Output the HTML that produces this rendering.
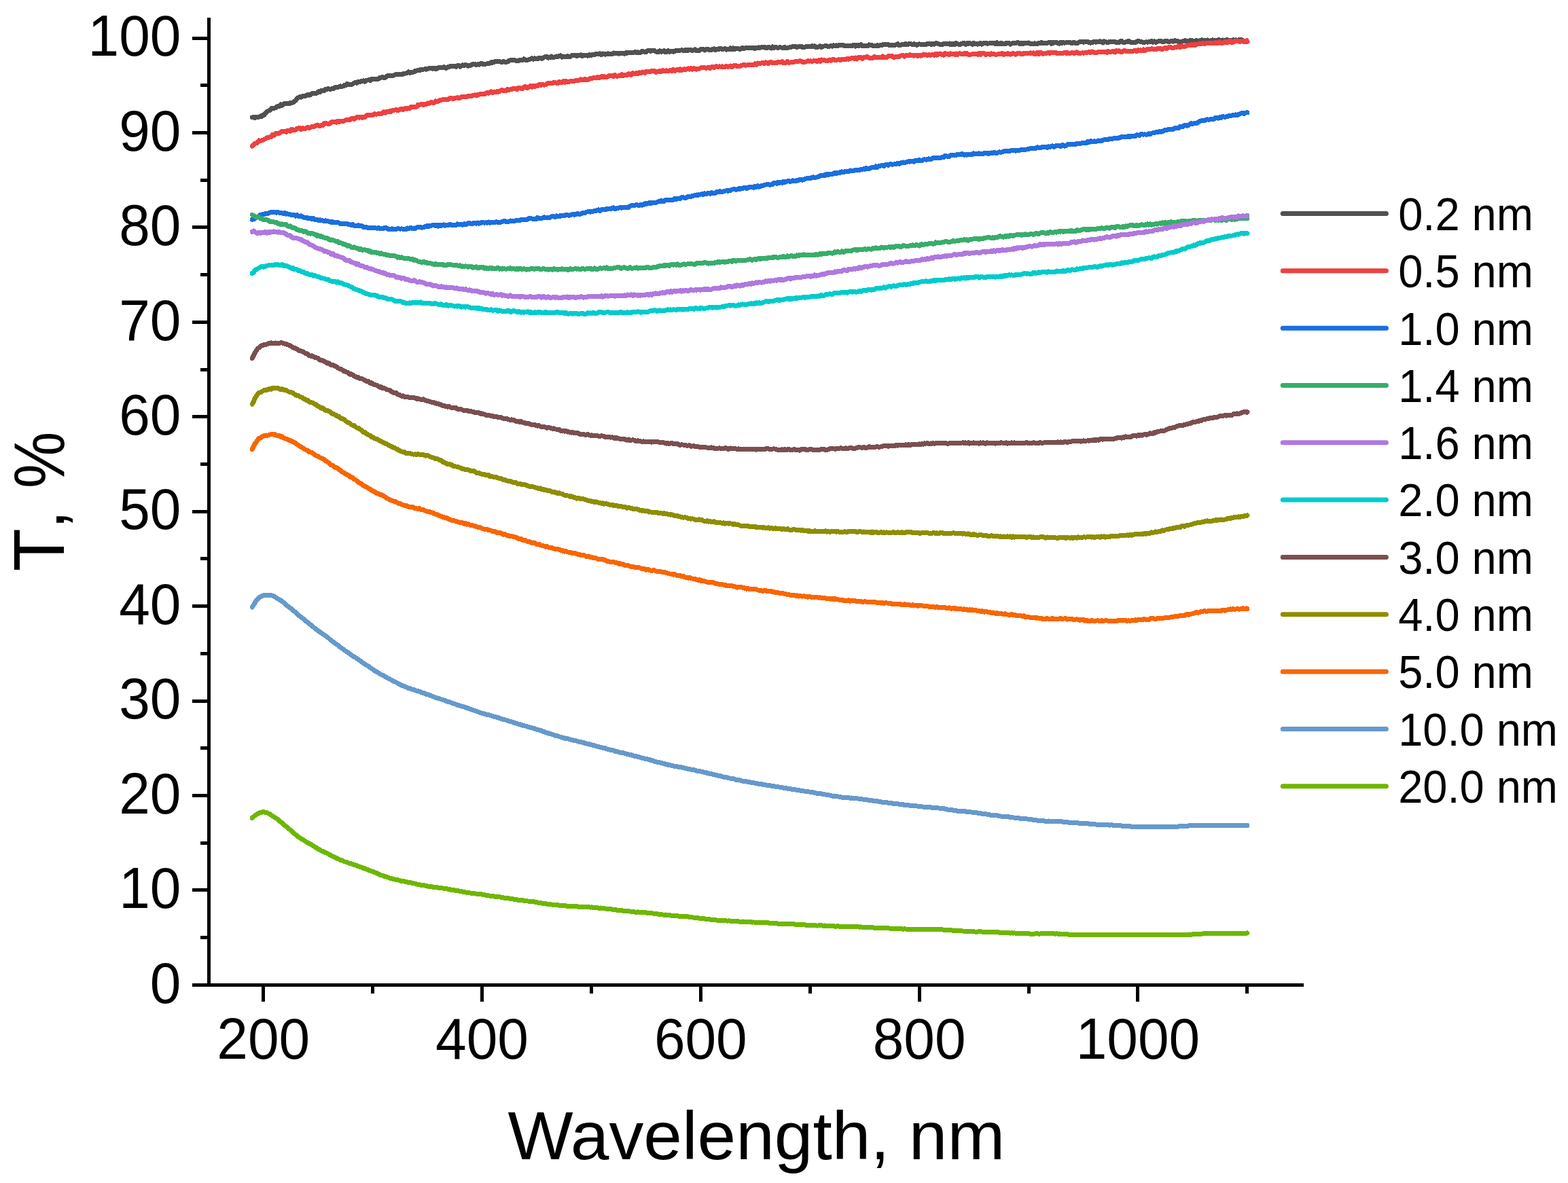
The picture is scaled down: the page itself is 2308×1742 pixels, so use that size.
<!DOCTYPE html>
<html><head><meta charset="utf-8"><title>Transmittance spectra</title>
<style>
html,body{margin:0;padding:0;background:#fff;}
svg{display:block;}
text{font-family:"Liberation Sans",sans-serif;fill:#000;}
</style></head>
<body>
<svg width="2308" height="1742" viewBox="0 0 2308 1742">
<rect width="2308" height="1742" fill="#fff"/>
<g fill="none" stroke-width="7.0" stroke-linejoin="round" stroke-linecap="round" shape-rendering="crispEdges">
<path d="M371.2 173.0 L373.2 172.6 L375.2 173.8 L377.2 172.2 L379.2 173.0 L381.2 172.2 L383.2 171.0 L385.2 171.4 L387.2 169.5 L389.2 169.1 L391.2 166.4 L393.2 164.3 L395.2 163.2 L397.2 162.6 L399.2 159.7 L401.2 159.0 L403.2 159.1 L405.2 159.0 L407.2 157.3 L409.2 156.1 L411.2 156.8 L413.2 153.9 L415.2 155.2 L417.2 153.3 L419.2 152.5 L421.2 152.0 L423.2 152.1 L425.2 152.9 L427.2 151.0 L429.2 151.4 L431.2 150.9 L433.2 149.2 L435.2 148.1 L437.2 145.1 L439.2 143.6 L441.2 142.8 L443.2 143.2 L445.2 141.9 L447.2 141.1 L449.2 141.3 L451.2 140.4 L453.2 139.5 L455.2 140.1 L457.2 139.3 L459.2 137.6 L461.2 137.8 L463.2 137.1 L465.2 137.3 L467.2 136.4 L469.2 134.7 L471.2 135.7 L473.2 133.1 L475.2 133.2 L477.2 133.5 L479.2 131.5 L481.2 131.8 L483.2 130.3 L485.2 131.3 L487.2 131.1 L489.2 130.2 L491.2 130.5 L493.2 128.6 L495.2 129.0 L497.2 128.3 L499.2 127.7 L501.2 126.9 L503.2 127.3 L505.2 127.0 L507.2 125.4 L509.2 125.4 L511.2 123.5 L513.2 124.6 L515.2 124.1 L517.2 124.5 L519.2 123.7 L521.2 122.0 L523.2 121.9 L525.2 122.2 L527.2 120.3 L529.2 121.0 L531.2 119.9 L533.2 119.4 L535.2 118.8 L537.2 120.1 L539.2 118.2 L541.2 118.0 L543.2 117.9 L545.2 118.7 L547.2 116.3 L549.2 116.8 L551.2 116.6 L553.2 116.9 L555.2 116.4 L557.2 116.1 L559.2 114.2 L561.2 114.2 L563.2 113.6 L565.2 114.5 L567.2 114.3 L569.2 112.0 L571.2 111.7 L573.2 111.4 L575.2 111.1 L577.2 111.3 L579.2 111.2 L581.2 110.1 L583.2 109.1 L585.2 109.8 L587.2 109.3 L589.2 109.4 L591.2 110.0 L593.2 109.0 L595.2 108.1 L597.2 108.0 L599.2 107.7 L601.2 105.8 L603.2 107.4 L605.2 106.7 L607.2 106.5 L609.2 105.9 L611.2 104.5 L613.2 104.2 L615.2 103.1 L617.2 104.0 L619.2 102.4 L621.2 102.1 L623.2 102.2 L625.2 101.8 L627.2 102.1 L629.2 101.2 L631.2 100.9 L633.2 101.0 L635.2 100.7 L637.2 101.2 L639.2 100.1 L641.2 102.0 L643.2 101.1 L645.2 99.8 L647.2 99.7 L649.2 99.7 L651.2 99.5 L653.2 98.6 L655.2 100.1 L657.2 100.2 L659.2 98.7 L661.2 98.5 L663.2 97.3 L665.2 97.1 L667.2 97.5 L669.2 97.2 L671.2 98.4 L673.2 96.6 L675.2 96.1 L677.2 98.2 L679.2 97.0 L681.2 95.9 L683.2 96.7 L685.2 95.3 L687.2 96.3 L689.2 97.2 L691.2 96.8 L693.2 96.2 L695.2 94.9 L697.2 95.0 L699.2 94.3 L701.2 95.6 L703.2 94.8 L705.2 95.1 L707.2 93.8 L709.2 93.3 L711.2 94.5 L713.2 94.7 L715.2 94.1 L717.2 93.8 L719.2 93.6 L721.2 93.1 L723.2 91.7 L725.2 92.1 L727.2 91.5 L729.2 90.5 L731.2 90.2 L733.2 90.6 L735.2 90.4 L737.2 91.2 L739.2 91.7 L741.2 90.3 L743.2 91.3 L745.2 91.2 L747.2 91.0 L749.2 89.4 L751.2 88.9 L753.2 88.8 L755.2 88.5 L757.2 88.4 L759.2 89.2 L761.2 89.7 L763.2 89.4 L765.2 88.4 L767.2 88.6 L769.2 88.8 L771.2 86.9 L773.2 88.1 L775.2 88.5 L777.2 88.0 L779.2 87.7 L781.2 86.8 L783.2 85.9 L785.2 87.2 L787.2 85.9 L789.2 86.8 L791.2 87.0 L793.2 85.4 L795.2 85.2 L797.2 86.3 L799.2 85.5 L801.2 84.0 L803.2 83.7 L805.2 83.6 L807.2 85.2 L809.2 84.8 L811.2 83.0 L813.2 84.5 L815.2 84.7 L817.2 83.8 L819.2 83.0 L821.2 83.4 L823.2 82.3 L825.2 81.9 L827.2 84.2 L829.2 83.3 L831.2 83.0 L833.2 83.9 L835.2 82.6 L837.2 83.6 L839.2 83.4 L841.2 81.9 L843.2 81.9 L845.2 81.9 L847.2 81.7 L849.2 82.4 L851.2 81.5 L853.2 81.7 L855.2 80.9 L857.2 82.6 L859.2 81.2 L861.2 81.3 L863.2 81.4 L865.2 82.1 L867.2 80.7 L869.2 81.8 L871.2 80.7 L873.2 80.6 L875.2 80.5 L877.2 79.1 L879.2 80.0 L881.2 79.3 L883.2 78.8 L885.2 80.6 L887.2 79.0 L889.2 79.6 L891.2 80.1 L893.2 79.6 L895.2 78.9 L897.2 79.3 L899.2 79.3 L901.2 79.7 L903.2 78.0 L905.2 79.0 L907.2 78.2 L909.2 78.1 L911.2 79.2 L913.2 78.5 L915.2 78.5 L917.2 78.9 L919.2 79.1 L921.2 77.8 L923.2 78.1 L925.2 77.7 L927.2 77.5 L929.2 77.8 L931.2 77.0 L933.2 77.1 L935.2 76.7 L937.2 77.7 L939.2 76.9 L941.2 77.1 L943.2 77.1 L945.2 75.3 L947.2 75.9 L949.2 76.7 L951.2 76.4 L953.2 74.7 L955.2 74.6 L957.2 75.4 L959.2 74.5 L961.2 74.9 L963.2 74.5 L965.2 76.0 L967.2 76.3 L969.2 76.6 L971.2 74.8 L973.2 76.2 L975.2 76.0 L977.2 74.7 L979.2 76.5 L981.2 76.6 L983.2 74.7 L985.2 76.4 L987.2 75.0 L989.2 75.1 L991.2 76.2 L993.2 75.8 L995.2 74.1 L997.2 74.6 L999.2 74.7 L1001.2 74.2 L1003.2 73.8 L1005.2 74.0 L1007.2 74.9 L1009.2 73.2 L1011.2 74.4 L1013.2 74.1 L1015.2 73.0 L1017.2 73.7 L1019.2 74.4 L1021.2 74.0 L1023.2 72.9 L1025.2 75.0 L1027.2 74.5 L1029.2 74.8 L1031.2 72.7 L1033.2 73.0 L1035.2 72.3 L1037.2 74.0 L1039.2 72.7 L1041.2 72.3 L1043.2 72.9 L1045.2 74.0 L1047.2 73.7 L1049.2 72.2 L1051.2 71.9 L1053.2 73.6 L1055.2 72.7 L1057.2 73.0 L1059.2 71.4 L1061.2 71.3 L1063.2 72.8 L1065.2 72.1 L1067.2 71.2 L1069.2 73.2 L1071.2 72.4 L1073.2 72.8 L1075.2 71.0 L1077.2 72.8 L1079.2 70.9 L1081.2 72.7 L1083.2 71.7 L1085.2 71.4 L1087.2 71.8 L1089.2 72.7 L1091.2 71.1 L1093.2 70.7 L1095.2 71.6 L1097.2 70.8 L1099.2 70.5 L1101.2 70.5 L1103.2 70.2 L1105.2 70.5 L1107.2 70.7 L1109.2 70.6 L1111.2 71.6 L1113.2 70.3 L1115.2 70.8 L1117.2 69.9 L1119.2 70.2 L1121.2 69.3 L1123.2 69.8 L1125.2 69.1 L1127.2 70.8 L1129.2 70.3 L1131.2 69.3 L1133.2 70.0 L1135.2 71.0 L1137.2 69.0 L1139.2 70.7 L1141.2 69.7 L1143.2 69.9 L1145.2 70.7 L1147.2 69.6 L1149.2 69.8 L1151.2 70.3 L1153.2 71.0 L1155.2 69.4 L1157.2 70.6 L1159.2 70.2 L1161.2 70.0 L1163.2 69.4 L1165.2 69.2 L1167.2 68.4 L1169.2 68.6 L1171.2 68.3 L1173.2 69.8 L1175.2 68.6 L1177.2 68.3 L1179.2 68.0 L1181.2 69.7 L1183.2 69.7 L1185.2 69.2 L1187.2 68.2 L1189.2 68.0 L1191.2 68.1 L1193.2 68.5 L1195.2 67.7 L1197.2 68.4 L1199.2 67.9 L1201.2 69.6 L1203.2 69.6 L1205.2 68.6 L1207.2 67.8 L1209.2 69.6 L1211.2 68.0 L1213.2 68.0 L1215.2 67.2 L1217.2 68.0 L1219.2 68.2 L1221.2 68.2 L1223.2 67.4 L1225.2 68.1 L1227.2 66.8 L1229.2 67.3 L1231.2 66.8 L1233.2 67.4 L1235.2 66.5 L1237.2 66.4 L1239.2 66.9 L1241.2 66.7 L1243.2 67.5 L1245.2 67.3 L1247.2 67.8 L1249.2 67.5 L1251.2 67.6 L1253.2 67.9 L1255.2 66.7 L1257.2 66.5 L1259.2 68.1 L1261.2 66.1 L1263.2 67.4 L1265.2 67.2 L1267.2 65.8 L1269.2 67.6 L1271.2 67.7 L1273.2 67.1 L1275.2 67.3 L1277.2 67.5 L1279.2 65.9 L1281.2 66.8 L1283.2 66.7 L1285.2 67.4 L1287.2 67.3 L1289.2 67.4 L1291.2 66.7 L1293.2 67.5 L1295.2 66.9 L1297.2 66.9 L1299.2 65.7 L1301.2 65.2 L1303.2 65.4 L1305.2 65.9 L1307.2 65.2 L1309.2 66.9 L1311.2 66.2 L1313.2 66.3 L1315.2 66.3 L1317.2 66.4 L1319.2 65.8 L1321.2 64.6 L1323.2 66.5 L1325.2 66.3 L1327.2 65.7 L1329.2 65.7 L1331.2 65.9 L1333.2 64.5 L1335.2 66.0 L1337.2 64.8 L1339.2 64.4 L1341.2 64.8 L1343.2 65.9 L1345.2 64.6 L1347.2 65.8 L1349.2 66.3 L1351.2 65.2 L1353.2 64.9 L1355.2 65.1 L1357.2 65.5 L1359.2 65.7 L1361.2 65.3 L1363.2 65.4 L1365.2 64.0 L1367.2 64.2 L1369.2 64.4 L1371.2 65.6 L1373.2 64.5 L1375.2 65.2 L1377.2 63.8 L1379.2 63.9 L1381.2 64.4 L1383.2 65.4 L1385.2 65.4 L1387.2 65.4 L1389.2 64.5 L1391.2 65.0 L1393.2 64.9 L1395.2 64.8 L1397.2 64.0 L1399.2 65.8 L1401.2 64.1 L1403.2 65.9 L1405.2 65.8 L1407.2 63.5 L1409.2 64.5 L1411.2 65.4 L1413.2 65.7 L1415.2 64.4 L1417.2 63.9 L1419.2 63.7 L1421.2 65.4 L1423.2 63.6 L1425.2 64.5 L1427.2 63.4 L1429.2 64.3 L1431.2 65.3 L1433.2 63.3 L1435.2 65.0 L1437.2 64.2 L1439.2 65.1 L1441.2 64.7 L1443.2 63.5 L1445.2 65.1 L1447.2 64.1 L1449.2 63.0 L1451.2 63.0 L1453.2 64.1 L1455.2 64.0 L1457.2 63.6 L1459.2 63.2 L1461.2 63.7 L1463.2 63.6 L1465.2 64.9 L1467.2 62.8 L1469.2 64.6 L1471.2 64.8 L1473.2 63.1 L1475.2 65.0 L1477.2 64.5 L1479.2 64.9 L1481.2 63.4 L1483.2 63.6 L1485.2 63.7 L1487.2 65.1 L1489.2 64.1 L1491.2 63.6 L1493.2 63.7 L1495.2 63.4 L1497.2 62.8 L1499.2 62.9 L1501.2 64.7 L1503.2 63.3 L1505.2 64.9 L1507.2 63.2 L1509.2 63.2 L1511.2 63.8 L1513.2 63.0 L1515.2 63.4 L1517.2 64.7 L1519.2 64.5 L1521.2 64.3 L1523.2 63.8 L1525.2 64.5 L1527.2 64.5 L1529.2 63.5 L1531.2 63.9 L1533.2 62.2 L1535.2 63.8 L1537.2 63.1 L1539.2 63.8 L1541.2 63.6 L1543.2 62.7 L1545.2 62.1 L1547.2 64.2 L1549.2 62.3 L1551.2 63.1 L1553.2 62.8 L1555.2 62.6 L1557.2 63.7 L1559.2 64.2 L1561.2 62.5 L1563.2 63.4 L1565.2 62.6 L1567.2 63.2 L1569.2 62.8 L1571.2 62.2 L1573.2 62.1 L1575.2 62.2 L1577.2 63.9 L1579.2 62.9 L1581.2 62.2 L1583.2 63.8 L1585.2 63.9 L1587.2 62.6 L1589.2 61.8 L1591.2 61.9 L1593.2 61.6 L1595.2 62.1 L1597.2 61.4 L1599.2 61.7 L1601.2 61.7 L1603.2 62.4 L1605.2 63.1 L1607.2 62.7 L1609.2 61.9 L1611.2 61.8 L1613.2 62.1 L1615.2 61.7 L1617.2 61.6 L1619.2 60.9 L1621.2 61.3 L1623.2 63.0 L1625.2 60.9 L1627.2 61.8 L1629.2 62.1 L1631.2 62.6 L1633.2 61.1 L1635.2 61.2 L1637.2 61.1 L1639.2 61.5 L1641.2 61.6 L1643.2 62.8 L1645.2 62.5 L1647.2 62.6 L1649.2 60.6 L1651.2 60.6 L1653.2 62.2 L1655.2 62.6 L1657.2 61.6 L1659.2 61.9 L1661.2 60.5 L1663.2 61.4 L1665.2 62.7 L1667.2 62.5 L1669.2 62.5 L1671.2 62.8 L1673.2 61.1 L1675.2 60.7 L1677.2 60.8 L1679.2 61.7 L1681.2 62.0 L1683.2 62.6 L1685.2 62.1 L1687.2 61.9 L1689.2 62.2 L1691.2 61.4 L1693.2 61.6 L1695.2 60.3 L1697.2 62.1 L1699.2 60.8 L1701.2 62.4 L1703.2 61.7 L1705.2 60.8 L1707.2 60.4 L1709.2 60.7 L1711.2 61.6 L1713.2 61.7 L1715.2 60.2 L1717.2 60.1 L1719.2 61.2 L1721.2 61.3 L1723.2 60.8 L1725.2 60.3 L1727.2 61.2 L1729.2 59.7 L1731.2 60.4 L1733.2 60.7 L1735.2 61.9 L1737.2 61.1 L1739.2 61.6 L1741.2 60.6 L1743.2 60.0 L1745.2 59.9 L1747.2 61.6 L1749.2 60.9 L1751.2 59.9 L1753.2 59.2 L1755.2 60.3 L1757.2 60.6 L1759.2 60.0 L1761.2 59.5 L1763.2 60.5 L1765.2 61.0 L1767.2 59.3 L1769.2 58.8 L1771.2 59.4 L1773.2 59.6 L1775.2 60.2 L1777.2 59.0 L1779.2 60.4 L1781.2 60.2 L1783.2 59.6 L1785.2 58.9 L1787.2 60.7 L1789.2 59.1 L1791.2 60.3 L1793.2 58.9 L1795.2 58.9 L1797.2 60.2 L1799.2 59.0 L1801.2 60.6 L1803.2 59.5 L1805.2 58.8 L1807.2 58.9 L1809.2 59.4 L1811.2 60.0 L1813.2 60.7 L1815.2 58.7 L1817.2 59.4 L1819.2 58.9 L1821.2 60.8 L1823.2 58.8 L1825.2 58.6 L1827.2 58.7 L1829.2 59.5 L1831.2 60.8 L1833.2 60.7 L1835.2 60.4 L1835.9 61.1" stroke="#515151"/>
<path d="M371.2 215.1 L373.2 212.9 L375.2 211.0 L377.2 211.0 L379.2 209.2 L381.2 206.8 L383.2 207.8 L385.2 206.6 L387.2 206.0 L389.2 205.2 L391.2 204.1 L393.2 202.9 L395.2 202.6 L397.2 201.7 L399.2 201.9 L401.2 198.6 L403.2 199.5 L405.2 196.7 L407.2 196.3 L409.2 196.8 L411.2 196.2 L413.2 194.7 L415.2 193.3 L417.2 193.9 L419.2 193.3 L421.2 194.3 L423.2 192.2 L425.2 192.3 L427.2 193.1 L429.2 190.5 L431.2 190.9 L433.2 191.5 L435.2 191.1 L437.2 189.1 L439.2 188.8 L441.2 188.7 L443.2 190.5 L445.2 188.7 L447.2 189.6 L449.2 189.6 L451.2 188.0 L453.2 187.5 L455.2 188.8 L457.2 187.6 L459.2 186.3 L461.2 187.0 L463.2 185.6 L465.2 185.1 L467.2 184.0 L469.2 185.4 L471.2 185.3 L473.2 184.2 L475.2 184.4 L477.2 181.7 L479.2 181.7 L481.2 181.8 L483.2 182.5 L485.2 182.0 L487.2 180.2 L489.2 179.5 L491.2 179.6 L493.2 179.4 L495.2 180.2 L497.2 178.1 L499.2 179.3 L501.2 178.9 L503.2 178.8 L505.2 178.4 L507.2 177.7 L509.2 176.7 L511.2 176.4 L513.2 176.1 L515.2 176.7 L517.2 174.6 L519.2 174.5 L521.2 175.4 L523.2 173.8 L525.2 172.9 L527.2 172.3 L529.2 173.2 L531.2 172.2 L533.2 173.3 L535.2 172.7 L537.2 172.5 L539.2 170.4 L541.2 169.5 L543.2 169.2 L545.2 169.7 L547.2 169.9 L549.2 168.8 L551.2 167.9 L553.2 168.0 L555.2 168.0 L557.2 167.8 L559.2 167.6 L561.2 167.4 L563.2 166.6 L565.2 164.8 L567.2 166.2 L569.2 164.5 L571.2 164.7 L573.2 163.9 L575.2 164.3 L577.2 162.7 L579.2 162.4 L581.2 162.0 L583.2 161.5 L585.2 162.9 L587.2 161.8 L589.2 160.8 L591.2 160.7 L593.2 161.8 L595.2 160.3 L597.2 159.2 L599.2 160.2 L601.2 159.5 L603.2 159.8 L605.2 157.2 L607.2 157.7 L609.2 158.0 L611.2 157.5 L613.2 157.2 L615.2 154.5 L617.2 154.6 L619.2 153.7 L621.2 153.4 L623.2 154.8 L625.2 153.4 L627.2 153.8 L629.2 152.0 L631.2 152.8 L633.2 151.3 L635.2 150.5 L637.2 151.3 L639.2 151.2 L641.2 148.8 L643.2 149.5 L645.2 149.2 L647.2 147.8 L649.2 147.7 L651.2 146.8 L653.2 146.5 L655.2 146.3 L657.2 146.8 L659.2 146.6 L661.2 145.2 L663.2 144.4 L665.2 144.9 L667.2 145.5 L669.2 144.1 L671.2 144.2 L673.2 143.7 L675.2 144.9 L677.2 144.0 L679.2 142.6 L681.2 142.4 L683.2 142.9 L685.2 142.9 L687.2 142.8 L689.2 141.2 L691.2 141.0 L693.2 141.9 L695.2 140.8 L697.2 140.1 L699.2 139.8 L701.2 140.9 L703.2 139.0 L705.2 139.2 L707.2 138.4 L709.2 138.1 L711.2 138.9 L713.2 138.8 L715.2 137.0 L717.2 136.3 L719.2 137.2 L721.2 135.6 L723.2 134.9 L725.2 136.7 L727.2 135.3 L729.2 135.9 L731.2 134.6 L733.2 135.5 L735.2 134.2 L737.2 133.1 L739.2 132.5 L741.2 133.5 L743.2 133.4 L745.2 133.7 L747.2 131.5 L749.2 132.5 L751.2 131.6 L753.2 131.6 L755.2 130.4 L757.2 130.4 L759.2 130.7 L761.2 131.4 L763.2 129.1 L765.2 129.7 L767.2 130.2 L769.2 130.3 L771.2 128.1 L773.2 127.7 L775.2 129.3 L777.2 129.1 L779.2 127.6 L781.2 126.3 L783.2 128.1 L785.2 126.5 L787.2 127.4 L789.2 126.4 L791.2 126.6 L793.2 124.7 L795.2 125.9 L797.2 124.3 L799.2 124.4 L801.2 125.2 L803.2 124.8 L805.2 123.0 L807.2 122.8 L809.2 122.9 L811.2 122.9 L813.2 122.3 L815.2 121.4 L817.2 121.5 L819.2 122.4 L821.2 122.6 L823.2 120.3 L825.2 121.3 L827.2 121.6 L829.2 119.6 L831.2 121.3 L833.2 119.4 L835.2 120.4 L837.2 120.0 L839.2 120.0 L841.2 119.0 L843.2 119.1 L845.2 119.3 L847.2 118.7 L849.2 119.0 L851.2 118.3 L853.2 118.0 L855.2 116.8 L857.2 117.9 L859.2 117.4 L861.2 116.5 L863.2 117.5 L865.2 117.3 L867.2 116.3 L869.2 115.3 L871.2 115.7 L873.2 114.6 L875.2 114.3 L877.2 114.8 L879.2 113.7 L881.2 114.2 L883.2 114.1 L885.2 112.6 L887.2 113.8 L889.2 112.2 L891.2 113.5 L893.2 113.3 L895.2 112.4 L897.2 111.1 L899.2 111.9 L901.2 111.4 L903.2 112.6 L905.2 110.5 L907.2 112.0 L909.2 112.2 L911.2 111.4 L913.2 111.4 L915.2 109.7 L917.2 111.5 L919.2 110.1 L921.2 111.0 L923.2 110.7 L925.2 108.7 L927.2 110.0 L929.2 110.1 L931.2 107.7 L933.2 108.1 L935.2 108.8 L937.2 107.1 L939.2 108.6 L941.2 106.8 L943.2 107.8 L945.2 106.0 L947.2 106.6 L949.2 107.4 L951.2 105.5 L953.2 105.4 L955.2 105.9 L957.2 105.3 L959.2 104.5 L961.2 104.7 L963.2 104.5 L965.2 106.3 L967.2 105.6 L969.2 106.0 L971.2 104.1 L973.2 105.5 L975.2 103.7 L977.2 104.6 L979.2 104.7 L981.2 103.9 L983.2 104.9 L985.2 104.0 L987.2 103.8 L989.2 104.4 L991.2 102.3 L993.2 104.3 L995.2 103.2 L997.2 102.5 L999.2 103.3 L1001.2 101.9 L1003.2 103.5 L1005.2 102.3 L1007.2 101.7 L1009.2 102.5 L1011.2 101.7 L1013.2 100.9 L1015.2 102.2 L1017.2 100.4 L1019.2 102.1 L1021.2 100.7 L1023.2 101.5 L1025.2 102.2 L1027.2 101.1 L1029.2 101.2 L1031.2 100.2 L1033.2 99.3 L1035.2 99.2 L1037.2 99.4 L1039.2 100.3 L1041.2 99.8 L1043.2 99.8 L1045.2 100.6 L1047.2 98.6 L1049.2 98.7 L1051.2 99.6 L1053.2 98.0 L1055.2 97.8 L1057.2 98.5 L1059.2 97.8 L1061.2 98.3 L1063.2 97.9 L1065.2 98.6 L1067.2 98.5 L1069.2 97.5 L1071.2 98.4 L1073.2 97.9 L1075.2 97.0 L1077.2 98.8 L1079.2 97.0 L1081.2 96.6 L1083.2 96.3 L1085.2 97.5 L1087.2 97.9 L1089.2 97.5 L1091.2 96.4 L1093.2 95.9 L1095.2 95.1 L1097.2 96.4 L1099.2 96.0 L1101.2 95.3 L1103.2 95.8 L1105.2 95.1 L1107.2 96.0 L1109.2 95.3 L1111.2 93.9 L1113.2 95.3 L1115.2 93.0 L1117.2 94.0 L1119.2 93.5 L1121.2 92.9 L1123.2 92.2 L1125.2 93.8 L1127.2 91.8 L1129.2 92.9 L1131.2 93.7 L1133.2 91.7 L1135.2 91.7 L1137.2 92.6 L1139.2 92.2 L1141.2 92.5 L1143.2 92.8 L1145.2 91.2 L1147.2 91.5 L1149.2 91.4 L1151.2 90.7 L1153.2 92.7 L1155.2 92.4 L1157.2 92.1 L1159.2 90.4 L1161.2 92.3 L1163.2 92.0 L1165.2 91.3 L1167.2 91.8 L1169.2 91.1 L1171.2 90.4 L1173.2 90.1 L1175.2 90.3 L1177.2 89.7 L1179.2 90.3 L1181.2 91.2 L1183.2 91.0 L1185.2 91.2 L1187.2 90.8 L1189.2 89.6 L1191.2 90.2 L1193.2 89.8 L1195.2 90.6 L1197.2 89.9 L1199.2 89.1 L1201.2 89.9 L1203.2 90.6 L1205.2 88.7 L1207.2 90.2 L1209.2 88.0 L1211.2 88.5 L1213.2 88.3 L1215.2 89.4 L1217.2 89.8 L1219.2 89.1 L1221.2 88.0 L1223.2 89.2 L1225.2 87.7 L1227.2 87.4 L1229.2 88.8 L1231.2 88.0 L1233.2 88.0 L1235.2 87.8 L1237.2 88.4 L1239.2 87.1 L1241.2 87.8 L1243.2 87.4 L1245.2 87.6 L1247.2 86.5 L1249.2 87.1 L1251.2 86.6 L1253.2 85.9 L1255.2 85.5 L1257.2 86.4 L1259.2 85.0 L1261.2 86.9 L1263.2 84.9 L1265.2 84.5 L1267.2 84.6 L1269.2 86.4 L1271.2 84.9 L1273.2 84.3 L1275.2 83.9 L1277.2 83.9 L1279.2 85.3 L1281.2 85.1 L1283.2 85.1 L1285.2 85.1 L1287.2 83.4 L1289.2 84.6 L1291.2 84.0 L1293.2 85.0 L1295.2 84.9 L1297.2 85.0 L1299.2 83.0 L1301.2 84.8 L1303.2 84.9 L1305.2 84.9 L1307.2 82.8 L1309.2 83.0 L1311.2 82.7 L1313.2 82.4 L1315.2 84.3 L1317.2 84.1 L1319.2 83.6 L1321.2 83.9 L1323.2 83.3 L1325.2 82.4 L1327.2 81.8 L1329.2 81.6 L1331.2 83.1 L1333.2 81.6 L1335.2 81.8 L1337.2 81.9 L1339.2 80.8 L1341.2 81.2 L1343.2 81.2 L1345.2 82.1 L1347.2 81.2 L1349.2 81.0 L1351.2 82.5 L1353.2 81.3 L1355.2 82.1 L1357.2 81.5 L1359.2 80.0 L1361.2 80.9 L1363.2 80.9 L1365.2 81.6 L1367.2 80.5 L1369.2 81.3 L1371.2 80.8 L1373.2 80.0 L1375.2 81.4 L1377.2 79.5 L1379.2 81.1 L1381.2 79.5 L1383.2 79.0 L1385.2 79.4 L1387.2 80.6 L1389.2 81.1 L1391.2 78.6 L1393.2 79.7 L1395.2 79.7 L1397.2 80.4 L1399.2 78.9 L1401.2 79.6 L1403.2 79.2 L1405.2 80.3 L1407.2 79.0 L1409.2 80.6 L1411.2 79.0 L1413.2 78.8 L1415.2 80.0 L1417.2 79.5 L1419.2 78.6 L1421.2 79.8 L1423.2 78.5 L1425.2 80.2 L1427.2 80.0 L1429.2 80.2 L1431.2 79.8 L1433.2 79.2 L1435.2 79.3 L1437.2 79.3 L1439.2 80.4 L1441.2 78.5 L1443.2 80.4 L1445.2 78.4 L1447.2 78.8 L1449.2 78.9 L1451.2 80.5 L1453.2 79.5 L1455.2 79.2 L1457.2 80.4 L1459.2 78.9 L1461.2 79.4 L1463.2 79.6 L1465.2 80.1 L1467.2 80.1 L1469.2 79.9 L1471.2 79.1 L1473.2 79.1 L1475.2 78.7 L1477.2 80.3 L1479.2 79.9 L1481.2 80.0 L1483.2 78.7 L1485.2 79.3 L1487.2 80.1 L1489.2 79.6 L1491.2 78.5 L1493.2 79.2 L1495.2 80.2 L1497.2 78.6 L1499.2 78.5 L1501.2 78.7 L1503.2 79.6 L1505.2 79.9 L1507.2 78.2 L1509.2 78.1 L1511.2 78.3 L1513.2 78.4 L1515.2 78.8 L1517.2 77.9 L1519.2 78.2 L1521.2 77.8 L1523.2 79.6 L1525.2 79.0 L1527.2 77.4 L1529.2 79.5 L1531.2 77.4 L1533.2 78.0 L1535.2 79.4 L1537.2 79.0 L1539.2 78.8 L1541.2 78.1 L1543.2 77.5 L1545.2 78.6 L1547.2 77.3 L1549.2 77.5 L1551.2 78.0 L1553.2 77.1 L1555.2 78.0 L1557.2 78.9 L1559.2 78.7 L1561.2 78.2 L1563.2 78.5 L1565.2 78.0 L1567.2 77.2 L1569.2 78.3 L1571.2 77.7 L1573.2 78.5 L1575.2 78.8 L1577.2 77.6 L1579.2 77.9 L1581.2 78.3 L1583.2 77.4 L1585.2 76.9 L1587.2 78.1 L1589.2 78.4 L1591.2 78.1 L1593.2 77.8 L1595.2 78.2 L1597.2 77.7 L1599.2 77.6 L1601.2 77.0 L1603.2 76.7 L1605.2 77.4 L1607.2 76.0 L1609.2 76.7 L1611.2 77.6 L1613.2 77.3 L1615.2 77.1 L1617.2 76.1 L1619.2 76.5 L1621.2 76.5 L1623.2 76.8 L1625.2 76.2 L1627.2 76.8 L1629.2 77.3 L1631.2 75.5 L1633.2 76.5 L1635.2 76.7 L1637.2 75.7 L1639.2 75.9 L1641.2 77.0 L1643.2 74.7 L1645.2 75.8 L1647.2 74.8 L1649.2 76.2 L1651.2 76.5 L1653.2 75.5 L1655.2 74.4 L1657.2 75.4 L1659.2 75.3 L1661.2 75.6 L1663.2 75.0 L1665.2 75.2 L1667.2 75.6 L1669.2 74.7 L1671.2 74.3 L1673.2 75.5 L1675.2 73.6 L1677.2 74.6 L1679.2 73.8 L1681.2 74.5 L1683.2 72.9 L1685.2 74.8 L1687.2 73.1 L1689.2 72.2 L1691.2 72.6 L1693.2 72.7 L1695.2 71.6 L1697.2 72.4 L1699.2 72.3 L1701.2 72.8 L1703.2 71.7 L1705.2 71.3 L1707.2 71.1 L1709.2 72.1 L1711.2 72.4 L1713.2 71.2 L1715.2 70.3 L1717.2 71.5 L1719.2 70.3 L1721.2 69.6 L1723.2 69.2 L1725.2 70.5 L1727.2 70.4 L1729.2 69.7 L1731.2 69.1 L1733.2 69.1 L1735.2 68.0 L1737.2 69.6 L1739.2 67.8 L1741.2 68.3 L1743.2 68.5 L1745.2 68.2 L1747.2 67.1 L1749.2 66.5 L1751.2 66.8 L1753.2 65.6 L1755.2 67.0 L1757.2 65.7 L1759.2 66.6 L1761.2 65.0 L1763.2 65.0 L1765.2 64.5 L1767.2 64.7 L1769.2 63.9 L1771.2 63.3 L1773.2 64.8 L1775.2 63.6 L1777.2 63.3 L1779.2 63.3 L1781.2 63.5 L1783.2 63.3 L1785.2 63.6 L1787.2 63.5 L1789.2 62.7 L1791.2 63.9 L1793.2 63.6 L1795.2 61.6 L1797.2 63.3 L1799.2 63.4 L1801.2 63.0 L1803.2 61.4 L1805.2 62.9 L1807.2 62.4 L1809.2 60.8 L1811.2 60.6 L1813.2 62.8 L1815.2 62.0 L1817.2 60.9 L1819.2 60.4 L1821.2 60.4 L1823.2 60.5 L1825.2 61.7 L1827.2 60.6 L1829.2 60.0 L1831.2 61.7 L1833.2 61.3 L1835.2 59.8 L1835.9 61.4" stroke="#EF4040"/>
<path d="M371.2 323.4 L373.2 322.9 L375.2 321.5 L377.2 320.8 L379.2 319.5 L381.2 318.6 L383.2 316.4 L385.2 316.5 L387.2 315.4 L389.2 315.3 L391.2 314.3 L393.2 314.8 L395.2 313.8 L397.2 313.0 L399.2 312.7 L401.2 312.4 L403.2 313.0 L405.2 312.2 L407.2 313.1 L409.2 312.6 L411.2 313.4 L413.2 313.6 L415.2 313.9 L417.2 314.8 L419.2 313.3 L421.2 315.2 L423.2 314.8 L425.2 315.4 L427.2 316.0 L429.2 316.7 L431.2 316.2 L433.2 316.6 L435.2 318.1 L437.2 316.7 L439.2 318.3 L441.2 318.7 L443.2 317.9 L445.2 319.4 L447.2 320.0 L449.2 320.9 L451.2 320.1 L453.2 321.8 L455.2 321.3 L457.2 321.6 L459.2 322.8 L461.2 321.5 L463.2 323.2 L465.2 323.4 L467.2 323.2 L469.2 324.5 L471.2 323.9 L473.2 324.5 L475.2 324.9 L477.2 325.7 L479.2 324.9 L481.2 325.6 L483.2 325.9 L485.2 326.5 L487.2 327.3 L489.2 326.5 L491.2 327.9 L493.2 327.3 L495.2 327.8 L497.2 327.6 L499.2 328.3 L501.2 329.5 L503.2 329.2 L505.2 329.8 L507.2 329.1 L509.2 329.4 L511.2 329.7 L513.2 330.6 L515.2 331.0 L517.2 331.6 L519.2 330.5 L521.2 332.1 L523.2 332.8 L525.2 332.4 L527.2 331.7 L529.2 332.5 L531.2 332.2 L533.2 332.8 L535.2 334.6 L537.2 334.2 L539.2 334.6 L541.2 335.1 L543.2 335.5 L545.2 335.2 L547.2 335.4 L549.2 335.6 L551.2 335.9 L553.2 335.9 L555.2 336.2 L557.2 335.5 L559.2 336.5 L561.2 336.2 L563.2 337.0 L565.2 335.8 L567.2 336.0 L569.2 335.8 L571.2 337.4 L573.2 337.8 L575.2 337.3 L577.2 336.8 L579.2 337.8 L581.2 337.8 L583.2 337.4 L585.2 336.8 L587.2 336.9 L589.2 337.1 L591.2 336.9 L593.2 337.1 L595.2 337.4 L597.2 337.9 L599.2 336.0 L601.2 336.9 L603.2 335.7 L605.2 335.6 L607.2 336.8 L609.2 336.0 L611.2 336.4 L613.2 335.2 L615.2 334.1 L617.2 334.5 L619.2 334.7 L621.2 335.1 L623.2 334.9 L625.2 333.7 L627.2 333.4 L629.2 332.6 L631.2 333.5 L633.2 332.4 L635.2 332.1 L637.2 331.7 L639.2 331.5 L641.2 332.8 L643.2 331.5 L645.2 333.1 L647.2 331.2 L649.2 332.7 L651.2 331.1 L653.2 330.8 L655.2 332.1 L657.2 331.0 L659.2 331.9 L661.2 330.7 L663.2 330.4 L665.2 331.7 L667.2 331.5 L669.2 331.7 L671.2 331.3 L673.2 329.9 L675.2 330.9 L677.2 330.9 L679.2 330.3 L681.2 331.1 L683.2 329.6 L685.2 330.9 L687.2 330.2 L689.2 328.7 L691.2 328.5 L693.2 329.6 L695.2 329.8 L697.2 328.2 L699.2 328.5 L701.2 329.2 L703.2 328.0 L705.2 329.2 L707.2 328.3 L709.2 327.4 L711.2 327.8 L713.2 328.1 L715.2 327.8 L717.2 328.1 L719.2 327.0 L721.2 328.2 L723.2 327.2 L725.2 327.6 L727.2 327.5 L729.2 327.0 L731.2 326.8 L733.2 327.4 L735.2 327.6 L737.2 327.2 L739.2 326.6 L741.2 325.9 L743.2 325.2 L745.2 326.9 L747.2 326.2 L749.2 326.2 L751.2 325.0 L753.2 325.4 L755.2 325.9 L757.2 325.4 L759.2 324.8 L761.2 324.0 L763.2 324.0 L765.2 324.7 L767.2 323.5 L769.2 323.9 L771.2 323.5 L773.2 323.9 L775.2 323.5 L777.2 322.3 L779.2 321.5 L781.2 321.8 L783.2 322.0 L785.2 322.1 L787.2 322.3 L789.2 322.3 L791.2 320.4 L793.2 321.8 L795.2 321.5 L797.2 321.4 L799.2 320.7 L801.2 319.9 L803.2 320.8 L805.2 320.5 L807.2 320.1 L809.2 320.3 L811.2 319.0 L813.2 318.3 L815.2 319.0 L817.2 319.3 L819.2 317.9 L821.2 318.8 L823.2 319.0 L825.2 317.4 L827.2 318.0 L829.2 317.9 L831.2 317.3 L833.2 316.5 L835.2 316.4 L837.2 317.2 L839.2 317.0 L841.2 316.1 L843.2 315.1 L845.2 316.3 L847.2 316.0 L849.2 314.6 L851.2 315.0 L853.2 315.3 L855.2 314.9 L857.2 313.9 L859.2 313.4 L861.2 313.3 L863.2 312.2 L865.2 311.8 L867.2 311.5 L869.2 312.2 L871.2 311.1 L873.2 311.2 L875.2 310.5 L877.2 310.4 L879.2 309.4 L881.2 308.9 L883.2 310.5 L885.2 308.9 L887.2 308.1 L889.2 308.8 L891.2 308.9 L893.2 307.3 L895.2 308.0 L897.2 307.2 L899.2 307.3 L901.2 306.1 L903.2 305.9 L905.2 307.6 L907.2 307.1 L909.2 306.1 L911.2 306.1 L913.2 305.2 L915.2 306.1 L917.2 305.1 L919.2 306.0 L921.2 305.4 L923.2 305.2 L925.2 305.3 L927.2 303.6 L929.2 302.9 L931.2 302.9 L933.2 302.6 L935.2 302.1 L937.2 301.7 L939.2 302.3 L941.2 302.6 L943.2 301.4 L945.2 302.1 L947.2 301.6 L949.2 299.6 L951.2 300.3 L953.2 299.5 L955.2 298.6 L957.2 299.9 L959.2 298.1 L961.2 298.4 L963.2 298.2 L965.2 298.5 L967.2 297.6 L969.2 296.7 L971.2 296.4 L973.2 295.5 L975.2 296.8 L977.2 296.5 L979.2 294.7 L981.2 294.0 L983.2 294.1 L985.2 294.0 L987.2 294.8 L989.2 294.5 L991.2 294.1 L993.2 292.2 L995.2 293.4 L997.2 292.9 L999.2 292.5 L1001.2 292.8 L1003.2 290.6 L1005.2 290.5 L1007.2 291.4 L1009.2 291.4 L1011.2 290.5 L1013.2 289.4 L1015.2 289.7 L1017.2 289.7 L1019.2 288.0 L1021.2 288.1 L1023.2 287.6 L1025.2 287.0 L1027.2 287.4 L1029.2 286.4 L1031.2 286.2 L1033.2 285.7 L1035.2 286.5 L1037.2 284.8 L1039.2 285.9 L1041.2 284.6 L1043.2 284.0 L1045.2 285.4 L1047.2 283.7 L1049.2 284.8 L1051.2 284.4 L1053.2 284.2 L1055.2 282.4 L1057.2 282.7 L1059.2 281.7 L1061.2 283.0 L1063.2 282.6 L1065.2 281.8 L1067.2 281.2 L1069.2 280.7 L1071.2 281.3 L1073.2 280.3 L1075.2 280.3 L1077.2 279.1 L1079.2 278.9 L1081.2 278.3 L1083.2 279.3 L1085.2 278.7 L1087.2 277.6 L1089.2 278.8 L1091.2 277.4 L1093.2 277.4 L1095.2 276.6 L1097.2 276.6 L1099.2 277.5 L1101.2 276.2 L1103.2 275.6 L1105.2 276.0 L1107.2 275.4 L1109.2 276.3 L1111.2 274.4 L1113.2 275.9 L1115.2 273.7 L1117.2 275.1 L1119.2 274.3 L1121.2 273.0 L1123.2 273.2 L1125.2 272.4 L1127.2 272.0 L1129.2 271.5 L1131.2 271.4 L1133.2 272.3 L1135.2 271.9 L1137.2 271.4 L1139.2 269.4 L1141.2 269.4 L1143.2 270.3 L1145.2 268.3 L1147.2 269.3 L1149.2 268.2 L1151.2 269.3 L1153.2 267.1 L1155.2 268.5 L1157.2 267.3 L1159.2 266.7 L1161.2 266.2 L1163.2 267.7 L1165.2 266.8 L1167.2 265.9 L1169.2 266.2 L1171.2 266.9 L1173.2 265.3 L1175.2 265.7 L1177.2 264.5 L1179.2 264.3 L1181.2 265.1 L1183.2 264.7 L1185.2 263.3 L1187.2 262.7 L1189.2 262.3 L1191.2 262.9 L1193.2 262.3 L1195.2 261.4 L1197.2 260.9 L1199.2 261.3 L1201.2 261.1 L1203.2 260.8 L1205.2 260.0 L1207.2 258.8 L1209.2 258.1 L1211.2 259.0 L1213.2 257.9 L1215.2 258.2 L1217.2 256.4 L1219.2 257.5 L1221.2 256.2 L1223.2 256.8 L1225.2 256.5 L1227.2 255.4 L1229.2 254.1 L1231.2 255.6 L1233.2 254.4 L1235.2 254.9 L1237.2 253.4 L1239.2 252.9 L1241.2 254.0 L1243.2 252.8 L1245.2 252.1 L1247.2 252.2 L1249.2 252.4 L1251.2 251.0 L1253.2 251.7 L1255.2 251.3 L1257.2 251.2 L1259.2 250.1 L1261.2 251.0 L1263.2 250.9 L1265.2 250.7 L1267.2 249.3 L1269.2 249.7 L1271.2 248.7 L1273.2 249.1 L1275.2 247.4 L1277.2 248.7 L1279.2 248.5 L1281.2 247.2 L1283.2 246.9 L1285.2 246.6 L1287.2 246.3 L1289.2 244.9 L1291.2 246.5 L1293.2 244.7 L1295.2 244.3 L1297.2 243.8 L1299.2 243.8 L1301.2 244.6 L1303.2 242.7 L1305.2 242.5 L1307.2 243.4 L1309.2 242.1 L1311.2 241.5 L1313.2 242.3 L1315.2 242.0 L1317.2 241.6 L1319.2 241.6 L1321.2 240.1 L1323.2 241.4 L1325.2 240.8 L1327.2 239.1 L1329.2 239.0 L1331.2 239.4 L1333.2 239.1 L1335.2 238.4 L1337.2 237.8 L1339.2 238.1 L1341.2 237.2 L1343.2 237.8 L1345.2 238.1 L1347.2 236.3 L1349.2 236.9 L1351.2 236.9 L1353.2 235.5 L1355.2 236.5 L1357.2 236.4 L1359.2 235.0 L1361.2 234.8 L1363.2 235.3 L1365.2 234.4 L1367.2 233.8 L1369.2 234.6 L1371.2 234.0 L1373.2 232.8 L1375.2 232.3 L1377.2 232.2 L1379.2 232.1 L1381.2 232.8 L1383.2 232.2 L1385.2 232.1 L1387.2 231.6 L1389.2 231.3 L1391.2 229.4 L1393.2 230.0 L1395.2 230.6 L1397.2 230.3 L1399.2 228.7 L1401.2 228.8 L1403.2 229.0 L1405.2 228.2 L1407.2 228.4 L1409.2 227.2 L1411.2 227.8 L1413.2 227.8 L1415.2 226.7 L1417.2 226.8 L1419.2 228.3 L1421.2 227.8 L1423.2 228.1 L1425.2 227.4 L1427.2 227.6 L1429.2 227.7 L1431.2 227.6 L1433.2 225.8 L1435.2 226.9 L1437.2 226.1 L1439.2 226.8 L1441.2 225.9 L1443.2 226.3 L1445.2 227.0 L1447.2 226.3 L1449.2 225.5 L1451.2 225.9 L1453.2 225.6 L1455.2 226.5 L1457.2 225.1 L1459.2 225.0 L1461.2 225.5 L1463.2 224.3 L1465.2 225.1 L1467.2 225.7 L1469.2 224.6 L1471.2 223.9 L1473.2 224.1 L1475.2 224.0 L1477.2 223.0 L1479.2 222.7 L1481.2 222.4 L1483.2 222.5 L1485.2 222.5 L1487.2 222.0 L1489.2 221.7 L1491.2 221.1 L1493.2 221.8 L1495.2 222.2 L1497.2 221.5 L1499.2 221.2 L1501.2 221.2 L1503.2 220.1 L1505.2 220.9 L1507.2 220.2 L1509.2 220.1 L1511.2 220.0 L1513.2 219.5 L1515.2 219.0 L1517.2 218.6 L1519.2 218.3 L1521.2 218.6 L1523.2 218.1 L1525.2 218.2 L1527.2 216.8 L1529.2 217.3 L1531.2 218.0 L1533.2 216.6 L1535.2 217.0 L1537.2 216.7 L1539.2 216.1 L1541.2 217.3 L1543.2 215.8 L1545.2 216.6 L1547.2 215.2 L1549.2 214.9 L1551.2 216.4 L1553.2 215.4 L1555.2 214.5 L1557.2 215.0 L1559.2 214.9 L1561.2 215.3 L1563.2 213.8 L1565.2 213.8 L1567.2 215.1 L1569.2 214.3 L1571.2 212.9 L1573.2 213.0 L1575.2 212.7 L1577.2 213.0 L1579.2 212.6 L1581.2 212.8 L1583.2 212.4 L1585.2 211.5 L1587.2 211.6 L1589.2 211.3 L1591.2 211.1 L1593.2 210.2 L1595.2 210.6 L1597.2 210.2 L1599.2 210.3 L1601.2 208.5 L1603.2 209.7 L1605.2 207.7 L1607.2 209.0 L1609.2 208.4 L1611.2 207.9 L1613.2 208.6 L1615.2 207.6 L1617.2 207.0 L1619.2 207.5 L1621.2 207.4 L1623.2 206.6 L1625.2 205.8 L1627.2 205.7 L1629.2 205.4 L1631.2 205.7 L1633.2 204.5 L1635.2 204.4 L1637.2 204.4 L1639.2 203.8 L1641.2 203.4 L1643.2 204.0 L1645.2 203.8 L1647.2 202.8 L1649.2 202.4 L1651.2 201.6 L1653.2 201.6 L1655.2 201.0 L1657.2 201.6 L1659.2 201.4 L1661.2 200.1 L1663.2 201.5 L1665.2 200.1 L1667.2 200.9 L1669.2 200.6 L1671.2 200.6 L1673.2 198.8 L1675.2 199.0 L1677.2 199.7 L1679.2 197.7 L1681.2 197.5 L1683.2 198.2 L1685.2 197.8 L1687.2 198.3 L1689.2 197.7 L1691.2 196.9 L1693.2 197.5 L1695.2 196.1 L1697.2 195.8 L1699.2 195.7 L1701.2 194.8 L1703.2 194.3 L1705.2 194.4 L1707.2 193.5 L1709.2 194.2 L1711.2 193.3 L1713.2 192.5 L1715.2 191.2 L1717.2 191.3 L1719.2 190.9 L1721.2 190.8 L1723.2 190.4 L1725.2 190.5 L1727.2 190.2 L1729.2 188.8 L1731.2 188.2 L1733.2 188.1 L1735.2 188.3 L1737.2 186.5 L1739.2 186.4 L1741.2 186.4 L1743.2 184.6 L1745.2 184.4 L1747.2 185.1 L1749.2 184.3 L1751.2 183.1 L1753.2 181.7 L1755.2 182.7 L1757.2 181.8 L1759.2 181.5 L1761.2 181.3 L1763.2 180.5 L1765.2 179.1 L1767.2 178.0 L1769.2 177.8 L1771.2 177.8 L1773.2 177.3 L1775.2 176.3 L1777.2 175.8 L1779.2 176.3 L1781.2 175.9 L1783.2 175.0 L1785.2 176.0 L1787.2 174.9 L1789.2 173.4 L1791.2 173.8 L1793.2 174.2 L1795.2 172.9 L1797.2 173.3 L1799.2 171.6 L1801.2 171.8 L1803.2 172.6 L1805.2 171.7 L1807.2 171.5 L1809.2 170.1 L1811.2 170.4 L1813.2 170.1 L1815.2 169.1 L1817.2 169.5 L1819.2 168.9 L1821.2 169.5 L1823.2 168.3 L1825.2 167.7 L1827.2 166.8 L1829.2 166.6 L1831.2 167.6 L1833.2 166.1 L1835.2 165.9 L1835.9 165.9" stroke="#1A6FDF"/>
<path d="M371.2 316.2 L373.2 317.6 L375.2 318.2 L377.2 319.6 L379.2 319.0 L381.2 319.8 L383.2 322.0 L385.2 321.8 L387.2 323.2 L389.2 323.1 L391.2 323.3 L393.2 324.0 L395.2 324.3 L397.2 326.4 L399.2 326.3 L401.2 326.3 L403.2 327.0 L405.2 327.4 L407.2 327.2 L409.2 329.4 L411.2 329.2 L413.2 330.5 L415.2 329.9 L417.2 330.7 L419.2 330.5 L421.2 330.6 L423.2 332.9 L425.2 333.3 L427.2 332.9 L429.2 334.9 L431.2 335.5 L433.2 335.4 L435.2 336.8 L437.2 338.3 L439.2 338.2 L441.2 339.8 L443.2 339.0 L445.2 339.9 L447.2 341.1 L449.2 340.7 L451.2 341.5 L453.2 343.2 L455.2 343.0 L457.2 344.2 L459.2 343.7 L461.2 344.2 L463.2 345.1 L465.2 345.4 L467.2 347.6 L469.2 346.9 L471.2 348.1 L473.2 347.9 L475.2 349.4 L477.2 349.8 L479.2 350.5 L481.2 350.5 L483.2 351.3 L485.2 353.3 L487.2 353.0 L489.2 353.4 L491.2 354.0 L493.2 354.8 L495.2 355.4 L497.2 355.7 L499.2 357.6 L501.2 357.7 L503.2 358.1 L505.2 359.9 L507.2 359.4 L509.2 360.4 L511.2 362.2 L513.2 361.5 L515.2 362.7 L517.2 364.1 L519.2 364.6 L521.2 363.9 L523.2 364.8 L525.2 366.0 L527.2 365.8 L529.2 367.5 L531.2 366.4 L533.2 368.4 L535.2 368.0 L537.2 367.9 L539.2 368.9 L541.2 368.7 L543.2 370.3 L545.2 369.9 L547.2 371.6 L549.2 371.4 L551.2 371.4 L553.2 371.6 L555.2 372.7 L557.2 372.3 L559.2 374.0 L561.2 372.9 L563.2 374.0 L565.2 374.5 L567.2 374.3 L569.2 375.7 L571.2 375.4 L573.2 376.3 L575.2 376.6 L577.2 376.5 L579.2 377.0 L581.2 376.9 L583.2 377.4 L585.2 379.2 L587.2 378.5 L589.2 379.6 L591.2 378.8 L593.2 380.1 L595.2 380.0 L597.2 380.6 L599.2 380.5 L601.2 380.4 L603.2 381.3 L605.2 381.5 L607.2 381.7 L609.2 383.2 L611.2 382.8 L613.2 383.5 L615.2 385.0 L617.2 385.2 L619.2 385.9 L621.2 386.3 L623.2 385.3 L625.2 386.1 L627.2 386.0 L629.2 387.7 L631.2 388.0 L633.2 387.7 L635.2 388.2 L637.2 389.0 L639.2 389.3 L641.2 388.6 L643.2 390.0 L645.2 389.2 L647.2 389.9 L649.2 389.1 L651.2 389.1 L653.2 390.8 L655.2 390.6 L657.2 390.6 L659.2 389.4 L661.2 389.5 L663.2 389.8 L665.2 390.0 L667.2 390.4 L669.2 390.7 L671.2 390.1 L673.2 390.8 L675.2 391.6 L677.2 390.9 L679.2 392.4 L681.2 392.0 L683.2 392.5 L685.2 391.8 L687.2 392.3 L689.2 393.1 L691.2 392.6 L693.2 392.1 L695.2 394.0 L697.2 394.0 L699.2 393.2 L701.2 392.9 L703.2 394.7 L705.2 394.4 L707.2 393.4 L709.2 393.9 L711.2 393.7 L713.2 395.2 L715.2 394.1 L717.2 395.6 L719.2 395.3 L721.2 394.1 L723.2 395.4 L725.2 394.8 L727.2 395.6 L729.2 395.8 L731.2 394.7 L733.2 394.4 L735.2 396.2 L737.2 395.2 L739.2 396.2 L741.2 395.8 L743.2 395.9 L745.2 396.2 L747.2 395.8 L749.2 395.5 L751.2 394.8 L753.2 396.1 L755.2 395.6 L757.2 395.8 L759.2 396.7 L761.2 395.2 L763.2 396.5 L765.2 395.1 L767.2 396.4 L769.2 396.7 L771.2 395.6 L773.2 396.2 L775.2 397.1 L777.2 396.5 L779.2 396.3 L781.2 395.8 L783.2 395.4 L785.2 396.0 L787.2 396.1 L789.2 395.7 L791.2 396.0 L793.2 395.6 L795.2 396.8 L797.2 396.7 L799.2 395.8 L801.2 395.9 L803.2 396.4 L805.2 396.3 L807.2 397.2 L809.2 396.1 L811.2 396.0 L813.2 397.2 L815.2 395.7 L817.2 396.5 L819.2 396.1 L821.2 397.1 L823.2 396.5 L825.2 397.0 L827.2 395.8 L829.2 396.8 L831.2 396.7 L833.2 396.4 L835.2 397.1 L837.2 397.2 L839.2 395.8 L841.2 396.1 L843.2 396.3 L845.2 396.0 L847.2 395.7 L849.2 396.1 L851.2 395.9 L853.2 396.9 L855.2 396.3 L857.2 395.6 L859.2 396.0 L861.2 396.2 L863.2 395.9 L865.2 395.5 L867.2 395.2 L869.2 395.0 L871.2 396.9 L873.2 396.3 L875.2 394.9 L877.2 396.1 L879.2 396.5 L881.2 395.6 L883.2 394.6 L885.2 395.3 L887.2 395.0 L889.2 394.5 L891.2 395.1 L893.2 393.9 L895.2 395.7 L897.2 395.1 L899.2 395.0 L901.2 395.5 L903.2 394.9 L905.2 394.1 L907.2 394.0 L909.2 393.8 L911.2 393.5 L913.2 395.0 L915.2 395.1 L917.2 394.0 L919.2 393.8 L921.2 394.7 L923.2 395.1 L925.2 395.2 L927.2 393.7 L929.2 395.0 L931.2 395.1 L933.2 394.9 L935.2 394.1 L937.2 393.8 L939.2 395.1 L941.2 394.1 L943.2 394.2 L945.2 394.5 L947.2 394.1 L949.2 395.0 L951.2 393.7 L953.2 393.2 L955.2 394.1 L957.2 394.1 L959.2 394.3 L961.2 393.8 L963.2 394.0 L965.2 393.8 L967.2 392.7 L969.2 392.4 L971.2 391.5 L973.2 391.5 L975.2 391.9 L977.2 390.6 L979.2 391.6 L981.2 390.4 L983.2 390.7 L985.2 391.6 L987.2 389.7 L989.2 389.4 L991.2 390.1 L993.2 389.4 L995.2 390.4 L997.2 388.8 L999.2 390.4 L1001.2 390.3 L1003.2 390.0 L1005.2 389.2 L1007.2 388.8 L1009.2 389.4 L1011.2 389.0 L1013.2 388.7 L1015.2 388.5 L1017.2 388.6 L1019.2 388.9 L1021.2 389.1 L1023.2 389.2 L1025.2 387.6 L1027.2 387.7 L1029.2 387.9 L1031.2 388.0 L1033.2 387.5 L1035.2 387.1 L1037.2 386.7 L1039.2 387.0 L1041.2 387.2 L1043.2 388.1 L1045.2 387.8 L1047.2 387.5 L1049.2 387.6 L1051.2 387.4 L1053.2 386.6 L1055.2 386.8 L1057.2 385.2 L1059.2 386.3 L1061.2 386.0 L1063.2 385.2 L1065.2 385.6 L1067.2 386.2 L1069.2 385.1 L1071.2 385.3 L1073.2 384.4 L1075.2 384.4 L1077.2 385.3 L1079.2 383.4 L1081.2 383.6 L1083.2 384.5 L1085.2 383.8 L1087.2 383.0 L1089.2 384.0 L1091.2 383.2 L1093.2 383.5 L1095.2 383.0 L1097.2 383.1 L1099.2 383.0 L1101.2 382.6 L1103.2 381.8 L1105.2 381.8 L1107.2 383.1 L1109.2 382.2 L1111.2 381.2 L1113.2 382.5 L1115.2 381.1 L1117.2 380.7 L1119.2 381.4 L1121.2 380.6 L1123.2 380.9 L1125.2 380.8 L1127.2 380.0 L1129.2 380.5 L1131.2 379.4 L1133.2 380.0 L1135.2 379.9 L1137.2 378.7 L1139.2 379.2 L1141.2 378.3 L1143.2 378.9 L1145.2 379.5 L1147.2 378.7 L1149.2 378.9 L1151.2 378.8 L1153.2 377.4 L1155.2 378.9 L1157.2 378.3 L1159.2 376.9 L1161.2 378.2 L1163.2 377.1 L1165.2 376.5 L1167.2 378.0 L1169.2 377.0 L1171.2 377.3 L1173.2 375.9 L1175.2 377.0 L1177.2 375.4 L1179.2 375.7 L1181.2 375.8 L1183.2 374.9 L1185.2 375.9 L1187.2 375.0 L1189.2 375.0 L1191.2 375.7 L1193.2 375.0 L1195.2 375.8 L1197.2 375.1 L1199.2 375.4 L1201.2 374.6 L1203.2 375.2 L1205.2 374.9 L1207.2 373.3 L1209.2 374.3 L1211.2 373.3 L1213.2 373.9 L1215.2 373.6 L1217.2 373.7 L1219.2 372.1 L1221.2 372.4 L1223.2 372.9 L1225.2 373.1 L1227.2 372.4 L1229.2 370.8 L1231.2 371.7 L1233.2 370.5 L1235.2 371.2 L1237.2 371.5 L1239.2 369.9 L1241.2 371.3 L1243.2 370.5 L1245.2 369.5 L1247.2 369.1 L1249.2 369.4 L1251.2 370.0 L1253.2 369.3 L1255.2 368.2 L1257.2 367.8 L1259.2 367.7 L1261.2 368.9 L1263.2 367.5 L1265.2 368.0 L1267.2 367.3 L1269.2 367.9 L1271.2 367.1 L1273.2 366.4 L1275.2 367.7 L1277.2 366.8 L1279.2 366.9 L1281.2 367.0 L1283.2 367.0 L1285.2 365.0 L1287.2 365.4 L1289.2 364.9 L1291.2 365.4 L1293.2 366.0 L1295.2 365.6 L1297.2 363.9 L1299.2 364.1 L1301.2 365.2 L1303.2 364.7 L1305.2 364.0 L1307.2 364.0 L1309.2 363.3 L1311.2 364.5 L1313.2 363.4 L1315.2 364.3 L1317.2 363.6 L1319.2 362.4 L1321.2 362.8 L1323.2 362.5 L1325.2 363.7 L1327.2 363.0 L1329.2 361.8 L1331.2 361.9 L1333.2 362.2 L1335.2 362.3 L1337.2 362.4 L1339.2 361.9 L1341.2 361.8 L1343.2 360.9 L1345.2 361.9 L1347.2 361.3 L1349.2 360.5 L1351.2 361.2 L1353.2 362.0 L1355.2 359.9 L1357.2 359.8 L1359.2 360.6 L1361.2 359.6 L1363.2 359.3 L1365.2 359.4 L1367.2 358.7 L1369.2 359.0 L1371.2 358.6 L1373.2 359.2 L1375.2 359.0 L1377.2 356.8 L1379.2 357.6 L1381.2 357.7 L1383.2 357.7 L1385.2 357.2 L1387.2 356.7 L1389.2 356.5 L1391.2 355.8 L1393.2 355.4 L1395.2 356.2 L1397.2 356.2 L1399.2 356.1 L1401.2 355.4 L1403.2 354.5 L1405.2 355.2 L1407.2 355.0 L1409.2 354.4 L1411.2 354.5 L1413.2 353.7 L1415.2 354.0 L1417.2 353.5 L1419.2 352.7 L1421.2 353.1 L1423.2 352.9 L1425.2 354.1 L1427.2 352.9 L1429.2 352.5 L1431.2 352.1 L1433.2 351.9 L1435.2 352.0 L1437.2 351.4 L1439.2 351.0 L1441.2 352.5 L1443.2 351.5 L1445.2 351.3 L1447.2 351.4 L1449.2 350.6 L1451.2 350.2 L1453.2 349.8 L1455.2 350.0 L1457.2 349.8 L1459.2 350.5 L1461.2 349.9 L1463.2 350.5 L1465.2 349.1 L1467.2 350.0 L1469.2 349.1 L1471.2 347.9 L1473.2 347.9 L1475.2 348.5 L1477.2 349.1 L1479.2 347.7 L1481.2 348.3 L1483.2 347.4 L1485.2 348.1 L1487.2 346.3 L1489.2 347.0 L1491.2 347.6 L1493.2 346.2 L1495.2 346.0 L1497.2 345.4 L1499.2 345.5 L1501.2 345.6 L1503.2 346.3 L1505.2 345.1 L1507.2 345.4 L1509.2 344.8 L1511.2 345.4 L1513.2 345.8 L1515.2 345.2 L1517.2 344.1 L1519.2 345.0 L1521.2 345.3 L1523.2 344.4 L1525.2 343.1 L1527.2 344.4 L1529.2 344.4 L1531.2 343.1 L1533.2 342.5 L1535.2 342.4 L1537.2 343.0 L1539.2 343.5 L1541.2 342.9 L1543.2 343.3 L1545.2 341.7 L1547.2 341.8 L1549.2 342.6 L1551.2 342.2 L1553.2 341.6 L1555.2 342.1 L1557.2 341.3 L1559.2 340.6 L1561.2 341.2 L1563.2 340.3 L1565.2 341.3 L1567.2 340.6 L1569.2 340.8 L1571.2 340.8 L1573.2 340.0 L1575.2 340.3 L1577.2 339.2 L1579.2 340.9 L1581.2 340.0 L1583.2 340.7 L1585.2 338.6 L1587.2 339.6 L1589.2 339.6 L1591.2 338.7 L1593.2 338.0 L1595.2 337.9 L1597.2 337.7 L1599.2 338.8 L1601.2 337.2 L1603.2 338.5 L1605.2 337.5 L1607.2 337.5 L1609.2 337.4 L1611.2 337.2 L1613.2 337.2 L1615.2 336.9 L1617.2 336.1 L1619.2 336.8 L1621.2 335.6 L1623.2 336.4 L1625.2 336.3 L1627.2 336.1 L1629.2 335.0 L1631.2 335.8 L1633.2 336.1 L1635.2 334.9 L1637.2 334.4 L1639.2 334.7 L1641.2 335.4 L1643.2 333.6 L1645.2 333.2 L1647.2 334.0 L1649.2 334.2 L1651.2 334.3 L1653.2 333.3 L1655.2 334.5 L1657.2 332.8 L1659.2 333.7 L1661.2 332.2 L1663.2 331.9 L1665.2 332.0 L1667.2 331.7 L1669.2 332.5 L1671.2 332.4 L1673.2 331.5 L1675.2 332.9 L1677.2 331.6 L1679.2 331.0 L1681.2 330.9 L1683.2 331.8 L1685.2 332.0 L1687.2 330.3 L1689.2 329.9 L1691.2 331.2 L1693.2 329.9 L1695.2 331.2 L1697.2 330.1 L1699.2 330.1 L1701.2 329.4 L1703.2 330.1 L1705.2 329.2 L1707.2 328.7 L1709.2 329.7 L1711.2 327.9 L1713.2 328.9 L1715.2 327.4 L1717.2 328.4 L1719.2 327.7 L1721.2 328.5 L1723.2 326.7 L1725.2 327.5 L1727.2 327.1 L1729.2 327.9 L1731.2 327.8 L1733.2 327.0 L1735.2 326.1 L1737.2 326.0 L1739.2 325.8 L1741.2 326.0 L1743.2 325.5 L1745.2 325.3 L1747.2 326.3 L1749.2 325.9 L1751.2 325.1 L1753.2 326.4 L1755.2 324.7 L1757.2 325.3 L1759.2 324.3 L1761.2 325.6 L1763.2 325.5 L1765.2 324.2 L1767.2 325.1 L1769.2 325.1 L1771.2 324.0 L1773.2 324.0 L1775.2 324.2 L1777.2 324.9 L1779.2 323.4 L1781.2 324.4 L1783.2 324.1 L1785.2 323.8 L1787.2 324.0 L1789.2 324.5 L1791.2 323.1 L1793.2 324.4 L1795.2 323.3 L1797.2 324.1 L1799.2 324.2 L1801.2 322.8 L1803.2 324.1 L1805.2 324.3 L1807.2 322.8 L1809.2 322.1 L1811.2 322.2 L1813.2 323.8 L1815.2 321.7 L1817.2 323.4 L1819.2 321.7 L1821.2 322.7 L1823.2 321.2 L1825.2 321.2 L1827.2 322.0 L1829.2 320.7 L1831.2 321.0 L1833.2 322.0 L1835.2 321.5 L1835.9 321.7" stroke="#38AD6B"/>
<path d="M371.2 341.3 L373.2 340.0 L375.2 341.3 L377.2 343.1 L379.2 343.4 L381.2 342.3 L383.2 343.3 L385.2 342.6 L387.2 342.8 L389.2 341.9 L391.2 341.5 L393.2 343.2 L395.2 341.7 L397.2 342.7 L399.2 341.1 L401.2 341.7 L403.2 340.9 L405.2 341.5 L407.2 341.0 L409.2 342.1 L411.2 341.3 L413.2 342.8 L415.2 342.8 L417.2 342.5 L419.2 343.6 L421.2 344.6 L423.2 346.3 L425.2 346.1 L427.2 346.9 L429.2 349.4 L431.2 350.1 L433.2 350.7 L435.2 350.5 L437.2 351.0 L439.2 351.8 L441.2 352.1 L443.2 352.7 L445.2 354.4 L447.2 355.0 L449.2 356.2 L451.2 356.8 L453.2 357.1 L455.2 359.5 L457.2 360.5 L459.2 361.2 L461.2 362.2 L463.2 363.5 L465.2 365.0 L467.2 365.7 L469.2 366.2 L471.2 366.5 L473.2 367.2 L475.2 368.2 L477.2 370.2 L479.2 369.8 L481.2 370.7 L483.2 371.5 L485.2 371.8 L487.2 374.3 L489.2 373.1 L491.2 375.1 L493.2 376.6 L495.2 376.0 L497.2 377.6 L499.2 377.9 L501.2 378.5 L503.2 379.2 L505.2 379.9 L507.2 382.2 L509.2 382.9 L511.2 384.0 L513.2 383.1 L515.2 385.2 L517.2 385.3 L519.2 386.7 L521.2 387.2 L523.2 387.5 L525.2 389.6 L527.2 388.3 L529.2 390.5 L531.2 391.4 L533.2 391.4 L535.2 392.3 L537.2 393.8 L539.2 393.0 L541.2 394.5 L543.2 395.4 L545.2 395.4 L547.2 396.8 L549.2 396.8 L551.2 397.8 L553.2 398.6 L555.2 399.4 L557.2 399.4 L559.2 400.7 L561.2 401.1 L563.2 401.1 L565.2 402.5 L567.2 402.4 L569.2 404.3 L571.2 404.0 L573.2 405.1 L575.2 405.3 L577.2 405.7 L579.2 405.8 L581.2 406.2 L583.2 408.3 L585.2 408.0 L587.2 408.5 L589.2 409.0 L591.2 410.1 L593.2 409.4 L595.2 409.8 L597.2 411.5 L599.2 411.2 L601.2 412.0 L603.2 412.9 L605.2 413.4 L607.2 413.8 L609.2 412.6 L611.2 413.7 L613.2 415.1 L615.2 415.5 L617.2 414.6 L619.2 415.1 L621.2 415.8 L623.2 416.0 L625.2 417.0 L627.2 418.4 L629.2 418.3 L631.2 418.7 L633.2 418.4 L635.2 419.4 L637.2 421.1 L639.2 420.9 L641.2 420.8 L643.2 421.2 L645.2 422.2 L647.2 422.5 L649.2 421.6 L651.2 422.9 L653.2 422.6 L655.2 423.2 L657.2 422.9 L659.2 423.4 L661.2 423.5 L663.2 423.8 L665.2 423.3 L667.2 423.9 L669.2 424.8 L671.2 424.0 L673.2 424.5 L675.2 425.7 L677.2 425.1 L679.2 425.4 L681.2 425.5 L683.2 426.9 L685.2 425.7 L687.2 427.0 L689.2 427.8 L691.2 426.8 L693.2 427.5 L695.2 428.6 L697.2 428.6 L699.2 428.4 L701.2 428.1 L703.2 429.3 L705.2 429.5 L707.2 430.5 L709.2 430.1 L711.2 430.6 L713.2 431.4 L715.2 432.1 L717.2 431.5 L719.2 431.9 L721.2 432.6 L723.2 433.6 L725.2 432.4 L727.2 434.3 L729.2 434.0 L731.2 433.6 L733.2 434.4 L735.2 434.0 L737.2 433.7 L739.2 435.3 L741.2 434.7 L743.2 435.2 L745.2 435.3 L747.2 436.3 L749.2 436.2 L751.2 434.9 L753.2 436.1 L755.2 436.0 L757.2 436.1 L759.2 437.0 L761.2 436.3 L763.2 436.5 L765.2 437.4 L767.2 436.6 L769.2 436.8 L771.2 436.9 L773.2 437.5 L775.2 437.3 L777.2 437.5 L779.2 436.9 L781.2 436.2 L783.2 437.5 L785.2 437.3 L787.2 437.8 L789.2 437.9 L791.2 436.6 L793.2 436.9 L795.2 436.6 L797.2 438.2 L799.2 436.8 L801.2 436.8 L803.2 438.2 L805.2 437.9 L807.2 436.9 L809.2 438.2 L811.2 438.3 L813.2 437.9 L815.2 437.0 L817.2 438.3 L819.2 437.8 L821.2 438.1 L823.2 439.0 L825.2 438.6 L827.2 438.7 L829.2 437.3 L831.2 437.7 L833.2 438.0 L835.2 437.0 L837.2 438.9 L839.2 437.5 L841.2 437.5 L843.2 437.5 L845.2 437.4 L847.2 438.5 L849.2 437.9 L851.2 437.7 L853.2 437.5 L855.2 436.6 L857.2 437.1 L859.2 438.1 L861.2 437.9 L863.2 437.9 L865.2 436.6 L867.2 436.4 L869.2 436.0 L871.2 436.9 L873.2 436.5 L875.2 436.6 L877.2 436.5 L879.2 436.7 L881.2 436.2 L883.2 437.0 L885.2 435.7 L887.2 437.1 L889.2 436.3 L891.2 435.2 L893.2 435.7 L895.2 436.1 L897.2 435.8 L899.2 436.0 L901.2 435.4 L903.2 435.2 L905.2 436.2 L907.2 435.1 L909.2 435.8 L911.2 435.9 L913.2 435.4 L915.2 435.0 L917.2 435.9 L919.2 434.9 L921.2 435.7 L923.2 434.0 L925.2 434.7 L927.2 435.0 L929.2 433.8 L931.2 435.4 L933.2 433.8 L935.2 434.8 L937.2 434.0 L939.2 435.4 L941.2 434.7 L943.2 435.1 L945.2 434.5 L947.2 434.8 L949.2 434.7 L951.2 433.8 L953.2 433.5 L955.2 434.6 L957.2 433.0 L959.2 434.3 L961.2 432.7 L963.2 432.2 L965.2 431.9 L967.2 432.9 L969.2 433.0 L971.2 431.6 L973.2 431.8 L975.2 430.7 L977.2 431.7 L979.2 431.0 L981.2 429.7 L983.2 429.2 L985.2 430.3 L987.2 428.7 L989.2 430.1 L991.2 428.8 L993.2 428.5 L995.2 429.1 L997.2 428.4 L999.2 428.7 L1001.2 427.7 L1003.2 429.1 L1005.2 427.8 L1007.2 428.7 L1009.2 427.2 L1011.2 428.4 L1013.2 428.7 L1015.2 427.4 L1017.2 426.5 L1019.2 427.1 L1021.2 427.5 L1023.2 426.6 L1025.2 427.1 L1027.2 426.1 L1029.2 426.7 L1031.2 427.1 L1033.2 426.4 L1035.2 426.7 L1037.2 425.4 L1039.2 426.7 L1041.2 425.1 L1043.2 426.5 L1045.2 426.5 L1047.2 426.1 L1049.2 425.1 L1051.2 424.4 L1053.2 424.3 L1055.2 424.9 L1057.2 424.2 L1059.2 424.8 L1061.2 422.9 L1063.2 423.5 L1065.2 424.0 L1067.2 423.2 L1069.2 422.9 L1071.2 421.7 L1073.2 421.6 L1075.2 421.6 L1077.2 422.6 L1079.2 422.2 L1081.2 420.7 L1083.2 421.9 L1085.2 419.8 L1087.2 420.7 L1089.2 421.1 L1091.2 419.6 L1093.2 420.5 L1095.2 419.6 L1097.2 418.1 L1099.2 418.4 L1101.2 418.3 L1103.2 417.6 L1105.2 418.3 L1107.2 416.9 L1109.2 417.8 L1111.2 416.6 L1113.2 415.8 L1115.2 416.5 L1117.2 415.3 L1119.2 415.9 L1121.2 416.1 L1123.2 415.5 L1125.2 415.0 L1127.2 413.8 L1129.2 414.5 L1131.2 413.5 L1133.2 414.3 L1135.2 413.0 L1137.2 413.7 L1139.2 413.0 L1141.2 412.8 L1143.2 413.1 L1145.2 411.9 L1147.2 411.6 L1149.2 412.9 L1151.2 411.4 L1153.2 412.2 L1155.2 412.0 L1157.2 411.0 L1159.2 410.1 L1161.2 409.7 L1163.2 411.0 L1165.2 409.3 L1167.2 409.8 L1169.2 409.6 L1171.2 408.5 L1173.2 409.0 L1175.2 408.1 L1177.2 408.6 L1179.2 408.3 L1181.2 407.8 L1183.2 407.2 L1185.2 407.4 L1187.2 406.7 L1189.2 406.3 L1191.2 406.3 L1193.2 407.3 L1195.2 406.3 L1197.2 406.8 L1199.2 404.8 L1201.2 406.3 L1203.2 405.1 L1205.2 405.5 L1207.2 404.7 L1209.2 404.6 L1211.2 403.4 L1213.2 404.1 L1215.2 402.6 L1217.2 402.4 L1219.2 401.6 L1221.2 402.0 L1223.2 401.9 L1225.2 401.1 L1227.2 401.9 L1229.2 399.9 L1231.2 400.6 L1233.2 399.5 L1235.2 399.9 L1237.2 399.9 L1239.2 399.4 L1241.2 397.7 L1243.2 397.7 L1245.2 398.1 L1247.2 398.5 L1249.2 396.2 L1251.2 397.0 L1253.2 396.9 L1255.2 396.8 L1257.2 395.5 L1259.2 396.1 L1261.2 395.1 L1263.2 395.6 L1265.2 393.5 L1267.2 395.0 L1269.2 393.7 L1271.2 393.4 L1273.2 392.4 L1275.2 392.4 L1277.2 393.1 L1279.2 392.7 L1281.2 391.3 L1283.2 391.4 L1285.2 390.7 L1287.2 390.6 L1289.2 390.3 L1291.2 390.3 L1293.2 391.3 L1295.2 391.1 L1297.2 390.4 L1299.2 389.5 L1301.2 389.3 L1303.2 389.6 L1305.2 389.6 L1307.2 389.0 L1309.2 388.5 L1311.2 387.4 L1313.2 388.0 L1315.2 388.2 L1317.2 387.8 L1319.2 386.2 L1321.2 387.2 L1323.2 386.2 L1325.2 385.6 L1327.2 387.0 L1329.2 386.1 L1331.2 386.0 L1333.2 384.6 L1335.2 385.7 L1337.2 385.7 L1339.2 385.4 L1341.2 384.8 L1343.2 384.7 L1345.2 384.4 L1347.2 383.7 L1349.2 383.1 L1351.2 383.6 L1353.2 383.2 L1355.2 383.1 L1357.2 381.7 L1359.2 382.7 L1361.2 381.6 L1363.2 382.1 L1365.2 380.2 L1367.2 381.6 L1369.2 380.9 L1371.2 379.5 L1373.2 380.4 L1375.2 378.9 L1377.2 378.5 L1379.2 378.7 L1381.2 377.9 L1383.2 378.1 L1385.2 378.6 L1387.2 377.9 L1389.2 377.6 L1391.2 376.7 L1393.2 377.2 L1395.2 376.9 L1397.2 376.4 L1399.2 376.6 L1401.2 376.2 L1403.2 375.1 L1405.2 374.2 L1407.2 375.1 L1409.2 375.2 L1411.2 374.1 L1413.2 374.4 L1415.2 374.7 L1417.2 374.4 L1419.2 372.7 L1421.2 373.5 L1423.2 372.4 L1425.2 372.4 L1427.2 373.7 L1429.2 372.7 L1431.2 373.0 L1433.2 372.5 L1435.2 372.1 L1437.2 371.7 L1439.2 371.8 L1441.2 372.6 L1443.2 372.0 L1445.2 371.1 L1447.2 370.5 L1449.2 370.7 L1451.2 371.4 L1453.2 370.6 L1455.2 370.9 L1457.2 370.9 L1459.2 369.4 L1461.2 370.3 L1463.2 368.8 L1465.2 370.1 L1467.2 368.6 L1469.2 368.5 L1471.2 369.7 L1473.2 368.2 L1475.2 367.7 L1477.2 368.8 L1479.2 368.0 L1481.2 368.3 L1483.2 367.1 L1485.2 367.0 L1487.2 367.7 L1489.2 366.6 L1491.2 367.3 L1493.2 365.4 L1495.2 366.5 L1497.2 364.9 L1499.2 365.4 L1501.2 364.1 L1503.2 364.2 L1505.2 365.5 L1507.2 364.3 L1509.2 364.7 L1511.2 363.3 L1513.2 363.2 L1515.2 362.4 L1517.2 362.9 L1519.2 363.2 L1521.2 362.1 L1523.2 361.4 L1525.2 362.2 L1527.2 361.7 L1529.2 360.9 L1531.2 359.4 L1533.2 360.3 L1535.2 359.7 L1537.2 360.5 L1539.2 359.2 L1541.2 359.7 L1543.2 359.5 L1545.2 359.0 L1547.2 359.2 L1549.2 359.5 L1551.2 360.0 L1553.2 359.1 L1555.2 358.8 L1557.2 360.0 L1559.2 358.1 L1561.2 359.5 L1563.2 359.1 L1565.2 358.7 L1567.2 358.3 L1569.2 358.7 L1571.2 358.8 L1573.2 358.2 L1575.2 358.0 L1577.2 356.3 L1579.2 356.6 L1581.2 355.9 L1583.2 357.3 L1585.2 356.9 L1587.2 355.1 L1589.2 355.7 L1591.2 355.3 L1593.2 354.0 L1595.2 354.4 L1597.2 354.8 L1599.2 354.3 L1601.2 353.2 L1603.2 353.9 L1605.2 352.7 L1607.2 352.9 L1609.2 352.3 L1611.2 353.1 L1613.2 352.2 L1615.2 352.2 L1617.2 351.6 L1619.2 350.7 L1621.2 351.6 L1623.2 350.8 L1625.2 350.4 L1627.2 349.3 L1629.2 348.7 L1631.2 349.3 L1633.2 349.5 L1635.2 349.1 L1637.2 347.9 L1639.2 347.2 L1641.2 347.6 L1643.2 348.1 L1645.2 346.4 L1647.2 347.2 L1649.2 345.8 L1651.2 345.8 L1653.2 345.0 L1655.2 345.2 L1657.2 345.1 L1659.2 346.0 L1661.2 345.8 L1663.2 344.0 L1665.2 344.0 L1667.2 345.0 L1669.2 343.2 L1671.2 343.2 L1673.2 343.2 L1675.2 342.3 L1677.2 342.3 L1679.2 342.3 L1681.2 342.0 L1683.2 342.9 L1685.2 341.2 L1687.2 340.8 L1689.2 341.8 L1691.2 340.6 L1693.2 341.0 L1695.2 340.2 L1697.2 340.1 L1699.2 338.8 L1701.2 338.1 L1703.2 338.9 L1705.2 337.9 L1707.2 337.7 L1709.2 337.5 L1711.2 337.3 L1713.2 335.9 L1715.2 335.7 L1717.2 336.4 L1719.2 335.3 L1721.2 334.4 L1723.2 334.7 L1725.2 333.6 L1727.2 334.3 L1729.2 332.5 L1731.2 333.7 L1733.2 332.8 L1735.2 332.0 L1737.2 332.9 L1739.2 331.2 L1741.2 330.8 L1743.2 330.0 L1745.2 330.6 L1747.2 330.7 L1749.2 330.2 L1751.2 329.2 L1753.2 329.6 L1755.2 327.9 L1757.2 327.8 L1759.2 328.1 L1761.2 328.4 L1763.2 327.3 L1765.2 327.0 L1767.2 326.7 L1769.2 325.6 L1771.2 326.3 L1773.2 325.5 L1775.2 324.4 L1777.2 324.1 L1779.2 324.6 L1781.2 323.4 L1783.2 322.7 L1785.2 323.8 L1787.2 322.9 L1789.2 322.6 L1791.2 322.7 L1793.2 322.9 L1795.2 321.2 L1797.2 321.3 L1799.2 320.6 L1801.2 321.1 L1803.2 321.1 L1805.2 321.5 L1807.2 320.9 L1809.2 320.5 L1811.2 319.9 L1813.2 320.0 L1815.2 319.2 L1817.2 320.0 L1819.2 319.6 L1821.2 319.4 L1823.2 317.8 L1825.2 318.5 L1827.2 318.4 L1829.2 317.7 L1831.2 318.3 L1833.2 318.1 L1835.2 317.6 L1835.9 317.6" stroke="#AF78DF"/>
<path d="M371.2 402.5 L373.2 401.3 L375.2 397.9 L377.2 397.2 L379.2 395.8 L381.2 394.6 L383.2 393.3 L385.2 392.4 L387.2 393.0 L389.2 393.0 L391.2 391.7 L393.2 391.2 L395.2 390.7 L397.2 390.0 L399.2 390.6 L401.2 390.8 L403.2 390.3 L405.2 389.5 L407.2 390.2 L409.2 389.2 L411.2 390.7 L413.2 390.0 L415.2 389.7 L417.2 391.2 L419.2 390.9 L421.2 391.7 L423.2 391.9 L425.2 393.2 L427.2 394.1 L429.2 395.2 L431.2 394.5 L433.2 396.7 L435.2 396.1 L437.2 397.0 L439.2 398.5 L441.2 398.7 L443.2 399.4 L445.2 400.5 L447.2 400.6 L449.2 402.3 L451.2 402.0 L453.2 403.8 L455.2 404.3 L457.2 404.5 L459.2 404.2 L461.2 406.1 L463.2 405.4 L465.2 406.8 L467.2 407.3 L469.2 407.2 L471.2 408.8 L473.2 409.6 L475.2 409.9 L477.2 410.2 L479.2 411.0 L481.2 411.7 L483.2 411.6 L485.2 413.3 L487.2 414.0 L489.2 414.2 L491.2 415.0 L493.2 414.3 L495.2 416.0 L497.2 414.9 L499.2 416.1 L501.2 416.0 L503.2 417.2 L505.2 418.2 L507.2 419.0 L509.2 419.4 L511.2 420.0 L513.2 420.6 L515.2 421.9 L517.2 422.7 L519.2 423.5 L521.2 425.4 L523.2 426.0 L525.2 426.7 L527.2 427.1 L529.2 428.8 L531.2 428.7 L533.2 429.5 L535.2 430.7 L537.2 431.6 L539.2 432.6 L541.2 432.8 L543.2 433.7 L545.2 434.2 L547.2 434.4 L549.2 434.9 L551.2 434.3 L553.2 435.1 L555.2 435.2 L557.2 437.3 L559.2 437.5 L561.2 437.9 L563.2 437.7 L565.2 438.4 L567.2 438.5 L569.2 439.8 L571.2 441.0 L573.2 440.2 L575.2 440.2 L577.2 441.0 L579.2 441.8 L581.2 443.2 L583.2 443.6 L585.2 443.4 L587.2 443.2 L589.2 443.6 L591.2 444.1 L593.2 445.6 L595.2 445.3 L597.2 446.5 L599.2 446.5 L601.2 446.4 L603.2 445.9 L605.2 446.6 L607.2 445.3 L609.2 445.2 L611.2 445.9 L613.2 445.8 L615.2 445.2 L617.2 445.2 L619.2 444.8 L621.2 446.5 L623.2 446.2 L625.2 446.8 L627.2 447.0 L629.2 446.2 L631.2 447.0 L633.2 446.6 L635.2 447.6 L637.2 447.9 L639.2 446.9 L641.2 446.9 L643.2 447.5 L645.2 448.4 L647.2 448.2 L649.2 447.8 L651.2 449.4 L653.2 449.6 L655.2 449.2 L657.2 448.6 L659.2 450.3 L661.2 449.9 L663.2 449.2 L665.2 449.8 L667.2 450.6 L669.2 451.2 L671.2 450.7 L673.2 451.1 L675.2 450.5 L677.2 450.8 L679.2 452.1 L681.2 451.4 L683.2 451.1 L685.2 452.2 L687.2 451.6 L689.2 451.9 L691.2 452.6 L693.2 453.1 L695.2 453.4 L697.2 453.8 L699.2 453.6 L701.2 453.1 L703.2 454.6 L705.2 453.6 L707.2 454.6 L709.2 454.7 L711.2 455.4 L713.2 455.7 L715.2 455.1 L717.2 456.1 L719.2 456.4 L721.2 456.2 L723.2 455.8 L725.2 457.4 L727.2 457.0 L729.2 456.2 L731.2 456.7 L733.2 458.2 L735.2 457.0 L737.2 457.4 L739.2 458.3 L741.2 458.5 L743.2 458.2 L745.2 458.6 L747.2 457.4 L749.2 457.6 L751.2 459.3 L753.2 459.1 L755.2 457.8 L757.2 457.9 L759.2 458.4 L761.2 459.7 L763.2 458.6 L765.2 459.5 L767.2 460.1 L769.2 459.6 L771.2 460.2 L773.2 459.2 L775.2 459.1 L777.2 458.9 L779.2 460.3 L781.2 459.2 L783.2 460.9 L785.2 460.5 L787.2 459.6 L789.2 460.7 L791.2 459.6 L793.2 460.2 L795.2 459.5 L797.2 460.7 L799.2 460.8 L801.2 460.9 L803.2 459.2 L805.2 460.7 L807.2 460.1 L809.2 460.6 L811.2 460.0 L813.2 460.2 L815.2 460.2 L817.2 460.7 L819.2 459.4 L821.2 459.5 L823.2 460.5 L825.2 460.2 L827.2 460.5 L829.2 460.0 L831.2 461.5 L833.2 460.4 L835.2 462.0 L837.2 462.1 L839.2 461.6 L841.2 461.1 L843.2 462.2 L845.2 461.4 L847.2 461.9 L849.2 461.3 L851.2 462.9 L853.2 462.1 L855.2 461.7 L857.2 461.1 L859.2 462.2 L861.2 462.3 L863.2 462.2 L865.2 460.7 L867.2 461.1 L869.2 460.9 L871.2 461.6 L873.2 460.4 L875.2 461.1 L877.2 461.6 L879.2 461.1 L881.2 459.6 L883.2 459.7 L885.2 459.6 L887.2 460.6 L889.2 460.3 L891.2 460.1 L893.2 459.9 L895.2 459.8 L897.2 460.1 L899.2 460.2 L901.2 460.7 L903.2 460.3 L905.2 460.5 L907.2 460.7 L909.2 460.6 L911.2 460.4 L913.2 459.2 L915.2 460.4 L917.2 460.7 L919.2 460.0 L921.2 460.8 L923.2 459.6 L925.2 460.9 L927.2 460.0 L929.2 460.4 L931.2 459.5 L933.2 459.5 L935.2 459.5 L937.2 459.3 L939.2 458.8 L941.2 459.3 L943.2 460.1 L945.2 459.4 L947.2 459.7 L949.2 459.2 L951.2 459.2 L953.2 459.3 L955.2 458.7 L957.2 457.7 L959.2 457.5 L961.2 457.7 L963.2 456.8 L965.2 457.1 L967.2 458.1 L969.2 458.0 L971.2 456.9 L973.2 457.5 L975.2 457.4 L977.2 457.5 L979.2 457.2 L981.2 456.6 L983.2 455.8 L985.2 457.0 L987.2 455.9 L989.2 456.4 L991.2 455.8 L993.2 456.0 L995.2 456.7 L997.2 455.2 L999.2 455.7 L1001.2 455.8 L1003.2 455.6 L1005.2 456.2 L1007.2 455.1 L1009.2 455.9 L1011.2 455.4 L1013.2 455.8 L1015.2 454.2 L1017.2 454.3 L1019.2 454.3 L1021.2 455.3 L1023.2 453.6 L1025.2 453.9 L1027.2 454.7 L1029.2 455.0 L1031.2 453.4 L1033.2 453.8 L1035.2 454.1 L1037.2 454.0 L1039.2 454.0 L1041.2 453.8 L1043.2 452.8 L1045.2 452.6 L1047.2 452.1 L1049.2 453.1 L1051.2 452.1 L1053.2 452.0 L1055.2 453.1 L1057.2 452.4 L1059.2 452.1 L1061.2 452.0 L1063.2 451.8 L1065.2 451.7 L1067.2 450.9 L1069.2 450.2 L1071.2 450.0 L1073.2 449.8 L1075.2 450.2 L1077.2 449.6 L1079.2 449.3 L1081.2 449.8 L1083.2 450.5 L1085.2 449.8 L1087.2 448.8 L1089.2 449.5 L1091.2 448.2 L1093.2 447.9 L1095.2 448.1 L1097.2 448.1 L1099.2 448.4 L1101.2 447.7 L1103.2 448.0 L1105.2 446.7 L1107.2 448.0 L1109.2 446.7 L1111.2 447.4 L1113.2 445.7 L1115.2 446.9 L1117.2 445.6 L1119.2 446.4 L1121.2 446.1 L1123.2 445.6 L1125.2 444.6 L1127.2 443.8 L1129.2 443.8 L1131.2 444.8 L1133.2 443.2 L1135.2 443.8 L1137.2 443.4 L1139.2 443.2 L1141.2 442.1 L1143.2 441.8 L1145.2 441.4 L1147.2 442.8 L1149.2 441.4 L1151.2 441.7 L1153.2 441.3 L1155.2 440.5 L1157.2 440.0 L1159.2 439.7 L1161.2 441.0 L1163.2 439.5 L1165.2 440.8 L1167.2 439.5 L1169.2 439.9 L1171.2 438.7 L1173.2 439.7 L1175.2 438.5 L1177.2 438.5 L1179.2 438.6 L1181.2 437.7 L1183.2 437.7 L1185.2 438.5 L1187.2 437.4 L1189.2 437.4 L1191.2 437.9 L1193.2 436.7 L1195.2 436.4 L1197.2 436.2 L1199.2 436.3 L1201.2 436.0 L1203.2 436.3 L1205.2 435.7 L1207.2 436.2 L1209.2 434.4 L1211.2 435.3 L1213.2 435.3 L1215.2 433.9 L1217.2 433.3 L1219.2 433.7 L1221.2 432.8 L1223.2 433.1 L1225.2 433.3 L1227.2 431.9 L1229.2 431.7 L1231.2 432.0 L1233.2 431.2 L1235.2 431.1 L1237.2 431.2 L1239.2 430.4 L1241.2 430.1 L1243.2 430.4 L1245.2 430.4 L1247.2 431.1 L1249.2 430.2 L1251.2 429.2 L1253.2 429.3 L1255.2 430.1 L1257.2 429.6 L1259.2 430.0 L1261.2 430.0 L1263.2 429.6 L1265.2 428.1 L1267.2 429.4 L1269.2 428.4 L1271.2 427.6 L1273.2 427.2 L1275.2 428.2 L1277.2 426.7 L1279.2 426.2 L1281.2 426.2 L1283.2 427.1 L1285.2 426.0 L1287.2 426.2 L1289.2 424.7 L1291.2 425.0 L1293.2 424.5 L1295.2 424.0 L1297.2 424.5 L1299.2 423.6 L1301.2 422.9 L1303.2 424.1 L1305.2 422.9 L1307.2 422.1 L1309.2 421.5 L1311.2 422.3 L1313.2 421.8 L1315.2 420.6 L1317.2 421.1 L1319.2 421.3 L1321.2 420.6 L1323.2 419.8 L1325.2 419.9 L1327.2 419.8 L1329.2 419.6 L1331.2 418.4 L1333.2 419.3 L1335.2 419.2 L1337.2 418.6 L1339.2 418.5 L1341.2 417.3 L1343.2 418.0 L1345.2 416.4 L1347.2 416.2 L1349.2 416.6 L1351.2 416.8 L1353.2 415.1 L1355.2 415.0 L1357.2 414.4 L1359.2 414.9 L1361.2 414.1 L1363.2 413.9 L1365.2 414.7 L1367.2 414.2 L1369.2 414.6 L1371.2 413.4 L1373.2 413.6 L1375.2 412.2 L1377.2 413.7 L1379.2 412.2 L1381.2 412.5 L1383.2 412.4 L1385.2 413.0 L1387.2 412.0 L1389.2 412.7 L1391.2 411.9 L1393.2 411.0 L1395.2 412.0 L1397.2 410.7 L1399.2 412.0 L1401.2 410.8 L1403.2 410.3 L1405.2 411.4 L1407.2 410.1 L1409.2 410.1 L1411.2 409.9 L1413.2 410.3 L1415.2 409.0 L1417.2 409.5 L1419.2 408.9 L1421.2 410.0 L1423.2 408.3 L1425.2 409.3 L1427.2 408.5 L1429.2 408.8 L1431.2 408.8 L1433.2 409.0 L1435.2 407.9 L1437.2 408.0 L1439.2 407.7 L1441.2 409.1 L1443.2 407.6 L1445.2 407.5 L1447.2 408.1 L1449.2 408.2 L1451.2 408.7 L1453.2 407.1 L1455.2 407.4 L1457.2 407.2 L1459.2 407.8 L1461.2 407.5 L1463.2 407.3 L1465.2 408.1 L1467.2 407.6 L1469.2 407.8 L1471.2 407.8 L1473.2 406.4 L1475.2 407.5 L1477.2 406.3 L1479.2 405.5 L1481.2 406.8 L1483.2 405.2 L1485.2 404.8 L1487.2 405.1 L1489.2 404.9 L1491.2 405.9 L1493.2 405.5 L1495.2 404.5 L1497.2 404.4 L1499.2 404.8 L1501.2 404.5 L1503.2 404.0 L1505.2 403.6 L1507.2 402.7 L1509.2 402.7 L1511.2 403.2 L1513.2 402.9 L1515.2 403.1 L1517.2 403.1 L1519.2 403.1 L1521.2 401.5 L1523.2 401.2 L1525.2 402.5 L1527.2 401.8 L1529.2 400.9 L1531.2 401.7 L1533.2 400.8 L1535.2 400.6 L1537.2 400.8 L1539.2 400.9 L1541.2 401.1 L1543.2 399.9 L1545.2 401.0 L1547.2 400.6 L1549.2 400.2 L1551.2 400.4 L1553.2 400.5 L1555.2 399.0 L1557.2 399.6 L1559.2 399.8 L1561.2 399.7 L1563.2 399.4 L1565.2 398.3 L1567.2 399.5 L1569.2 399.0 L1571.2 397.7 L1573.2 397.9 L1575.2 398.6 L1577.2 396.9 L1579.2 397.0 L1581.2 397.8 L1583.2 397.4 L1585.2 395.9 L1587.2 396.6 L1589.2 395.7 L1591.2 395.9 L1593.2 395.9 L1595.2 394.5 L1597.2 394.4 L1599.2 394.1 L1601.2 394.0 L1603.2 393.3 L1605.2 393.2 L1607.2 393.5 L1609.2 393.2 L1611.2 392.4 L1613.2 393.0 L1615.2 393.4 L1617.2 392.5 L1619.2 391.8 L1621.2 392.2 L1623.2 391.4 L1625.2 390.7 L1627.2 391.0 L1629.2 389.8 L1631.2 390.7 L1633.2 389.5 L1635.2 389.6 L1637.2 390.4 L1639.2 389.7 L1641.2 389.5 L1643.2 388.9 L1645.2 388.6 L1647.2 388.4 L1649.2 388.5 L1651.2 386.8 L1653.2 387.5 L1655.2 386.4 L1657.2 386.0 L1659.2 386.7 L1661.2 385.9 L1663.2 386.0 L1665.2 385.8 L1667.2 384.9 L1669.2 383.9 L1671.2 383.2 L1673.2 383.8 L1675.2 383.7 L1677.2 382.6 L1679.2 381.8 L1681.2 381.3 L1683.2 381.3 L1685.2 381.8 L1687.2 380.2 L1689.2 380.2 L1691.2 379.8 L1693.2 380.2 L1695.2 380.3 L1697.2 378.2 L1699.2 377.9 L1701.2 378.9 L1703.2 378.5 L1705.2 376.6 L1707.2 376.5 L1709.2 376.3 L1711.2 375.5 L1713.2 375.2 L1715.2 374.8 L1717.2 373.8 L1719.2 372.9 L1721.2 372.4 L1723.2 372.0 L1725.2 371.3 L1727.2 371.6 L1729.2 371.2 L1731.2 369.8 L1733.2 370.1 L1735.2 369.3 L1737.2 368.0 L1739.2 367.6 L1741.2 366.3 L1743.2 367.0 L1745.2 365.7 L1747.2 364.1 L1749.2 363.6 L1751.2 363.8 L1753.2 362.6 L1755.2 362.5 L1757.2 360.9 L1759.2 361.3 L1761.2 360.6 L1763.2 358.7 L1765.2 358.9 L1767.2 357.5 L1769.2 357.8 L1771.2 357.3 L1773.2 356.7 L1775.2 355.1 L1777.2 354.3 L1779.2 354.7 L1781.2 354.0 L1783.2 352.7 L1785.2 352.3 L1787.2 352.5 L1789.2 351.2 L1791.2 351.7 L1793.2 350.5 L1795.2 350.1 L1797.2 350.0 L1799.2 349.8 L1801.2 349.7 L1803.2 348.1 L1805.2 348.9 L1807.2 347.6 L1809.2 347.3 L1811.2 347.6 L1813.2 347.2 L1815.2 346.7 L1817.2 346.8 L1819.2 345.1 L1821.2 344.9 L1823.2 345.2 L1825.2 344.1 L1827.2 343.6 L1829.2 343.4 L1831.2 344.1 L1833.2 343.9 L1835.2 343.5 L1835.9 343.8" stroke="#00CBCB"/>
<path d="M371.2 527.5 L373.2 523.3 L375.2 519.3 L377.2 516.7 L379.2 513.1 L381.2 512.1 L383.2 509.9 L385.2 508.7 L387.2 508.4 L389.2 507.0 L391.2 507.6 L393.2 506.9 L395.2 505.9 L397.2 505.2 L399.2 504.9 L401.2 505.4 L403.2 505.3 L405.2 505.0 L407.2 505.5 L409.2 505.2 L411.2 505.7 L413.2 504.8 L415.2 504.9 L417.2 505.6 L419.2 506.1 L421.2 506.4 L423.2 507.8 L425.2 508.0 L427.2 509.2 L429.2 510.4 L431.2 511.7 L433.2 512.7 L435.2 513.0 L437.2 514.0 L439.2 515.7 L441.2 516.6 L443.2 517.0 L445.2 517.2 L447.2 518.7 L449.2 520.1 L451.2 520.5 L453.2 521.1 L455.2 523.5 L457.2 524.3 L459.2 523.9 L461.2 525.2 L463.2 526.3 L465.2 526.6 L467.2 527.1 L469.2 529.1 L471.2 530.1 L473.2 530.5 L475.2 530.9 L477.2 532.4 L479.2 532.8 L481.2 535.1 L483.2 534.5 L485.2 535.7 L487.2 537.3 L489.2 537.2 L491.2 538.1 L493.2 538.9 L495.2 540.1 L497.2 541.6 L499.2 543.1 L501.2 543.1 L503.2 544.2 L505.2 546.1 L507.2 546.6 L509.2 547.5 L511.2 548.2 L513.2 549.3 L515.2 551.4 L517.2 550.9 L519.2 552.0 L521.2 553.6 L523.2 554.7 L525.2 555.5 L527.2 555.6 L529.2 557.2 L531.2 557.5 L533.2 557.8 L535.2 559.0 L537.2 560.3 L539.2 561.2 L541.2 561.2 L543.2 562.2 L545.2 564.4 L547.2 563.9 L549.2 566.0 L551.2 566.1 L553.2 566.8 L555.2 567.7 L557.2 568.8 L559.2 570.4 L561.2 569.9 L563.2 571.8 L565.2 571.7 L567.2 572.2 L569.2 573.9 L571.2 574.0 L573.2 574.6 L575.2 575.8 L577.2 577.3 L579.2 578.2 L581.2 578.6 L583.2 578.5 L585.2 580.6 L587.2 581.1 L589.2 582.4 L591.2 583.2 L593.2 582.9 L595.2 584.4 L597.2 584.9 L599.2 584.5 L601.2 585.0 L603.2 585.4 L605.2 585.7 L607.2 586.0 L609.2 585.7 L611.2 586.1 L613.2 587.4 L615.2 586.9 L617.2 587.5 L619.2 588.2 L621.2 588.3 L623.2 587.9 L625.2 589.4 L627.2 589.8 L629.2 590.6 L631.2 590.8 L633.2 591.5 L635.2 592.2 L637.2 592.0 L639.2 593.3 L641.2 593.6 L643.2 594.9 L645.2 594.4 L647.2 595.7 L649.2 595.9 L651.2 597.2 L653.2 597.0 L655.2 598.2 L657.2 598.7 L659.2 599.2 L661.2 598.4 L663.2 600.1 L665.2 600.3 L667.2 600.6 L669.2 601.0 L671.2 600.5 L673.2 602.3 L675.2 602.2 L677.2 602.5 L679.2 602.8 L681.2 604.0 L683.2 604.4 L685.2 605.0 L687.2 604.4 L689.2 605.1 L691.2 605.4 L693.2 605.5 L695.2 606.3 L697.2 606.3 L699.2 607.9 L701.2 607.4 L703.2 607.5 L705.2 607.9 L707.2 609.4 L709.2 608.9 L711.2 609.8 L713.2 610.1 L715.2 611.1 L717.2 611.7 L719.2 611.1 L721.2 612.0 L723.2 612.8 L725.2 612.5 L727.2 613.6 L729.2 613.8 L731.2 613.5 L733.2 614.8 L735.2 614.7 L737.2 614.4 L739.2 615.5 L741.2 616.3 L743.2 616.2 L745.2 616.6 L747.2 616.9 L749.2 618.1 L751.2 618.2 L753.2 617.9 L755.2 618.6 L757.2 619.0 L759.2 620.4 L761.2 620.4 L763.2 620.0 L765.2 621.7 L767.2 620.7 L769.2 622.1 L771.2 622.3 L773.2 623.2 L775.2 623.1 L777.2 623.0 L779.2 624.1 L781.2 625.0 L783.2 625.4 L785.2 625.1 L787.2 625.3 L789.2 626.6 L791.2 627.1 L793.2 626.6 L795.2 628.0 L797.2 628.6 L799.2 628.1 L801.2 628.4 L803.2 629.3 L805.2 630.1 L807.2 629.3 L809.2 629.9 L811.2 630.3 L813.2 631.4 L815.2 630.9 L817.2 631.9 L819.2 632.2 L821.2 632.9 L823.2 632.5 L825.2 634.2 L827.2 634.6 L829.2 634.3 L831.2 635.1 L833.2 634.5 L835.2 636.1 L837.2 635.9 L839.2 636.6 L841.2 637.1 L843.2 636.6 L845.2 637.9 L847.2 637.1 L849.2 637.1 L851.2 638.2 L853.2 639.1 L855.2 639.5 L857.2 639.9 L859.2 639.4 L861.2 640.4 L863.2 640.1 L865.2 639.7 L867.2 640.7 L869.2 641.3 L871.2 640.9 L873.2 641.5 L875.2 641.1 L877.2 641.4 L879.2 641.8 L881.2 642.2 L883.2 642.3 L885.2 641.9 L887.2 642.0 L889.2 642.7 L891.2 643.6 L893.2 643.8 L895.2 643.2 L897.2 643.5 L899.2 644.1 L901.2 643.8 L903.2 644.7 L905.2 645.4 L907.2 644.6 L909.2 645.5 L911.2 646.0 L913.2 646.3 L915.2 646.5 L917.2 646.8 L919.2 646.4 L921.2 647.6 L923.2 648.1 L925.2 647.0 L927.2 648.7 L929.2 648.1 L931.2 647.8 L933.2 648.0 L935.2 649.4 L937.2 649.5 L939.2 648.8 L941.2 649.5 L943.2 650.0 L945.2 650.8 L947.2 649.9 L949.2 650.7 L951.2 650.0 L953.2 650.1 L955.2 650.1 L957.2 650.7 L959.2 651.1 L961.2 650.7 L963.2 650.6 L965.2 650.8 L967.2 650.7 L969.2 651.0 L971.2 651.3 L973.2 651.7 L975.2 651.4 L977.2 652.0 L979.2 652.1 L981.2 653.1 L983.2 652.5 L985.2 653.5 L987.2 652.9 L989.2 652.7 L991.2 653.6 L993.2 653.1 L995.2 653.4 L997.2 653.5 L999.2 654.8 L1001.2 655.5 L1003.2 654.8 L1005.2 655.0 L1007.2 655.4 L1009.2 655.5 L1011.2 656.3 L1013.2 656.0 L1015.2 655.9 L1017.2 657.2 L1019.2 657.0 L1021.2 656.3 L1023.2 657.9 L1025.2 657.9 L1027.2 657.5 L1029.2 658.1 L1031.2 658.8 L1033.2 658.1 L1035.2 658.4 L1037.2 658.3 L1039.2 658.9 L1041.2 659.2 L1043.2 659.5 L1045.2 659.9 L1047.2 658.8 L1049.2 659.3 L1051.2 660.2 L1053.2 660.2 L1055.2 660.0 L1057.2 660.2 L1059.2 659.8 L1061.2 660.8 L1063.2 660.3 L1065.2 660.2 L1067.2 659.9 L1069.2 659.9 L1071.2 661.2 L1073.2 661.1 L1075.2 660.0 L1077.2 660.5 L1079.2 660.8 L1081.2 660.9 L1083.2 660.8 L1085.2 661.7 L1087.2 660.9 L1089.2 661.2 L1091.2 661.9 L1093.2 661.5 L1095.2 661.3 L1097.2 661.1 L1099.2 661.2 L1101.2 661.6 L1103.2 661.9 L1105.2 661.1 L1107.2 661.3 L1109.2 661.3 L1111.2 661.3 L1113.2 662.2 L1115.2 661.6 L1117.2 661.2 L1119.2 661.2 L1121.2 662.0 L1123.2 661.0 L1125.2 661.8 L1127.2 660.8 L1129.2 661.0 L1131.2 660.8 L1133.2 662.0 L1135.2 661.0 L1137.2 661.1 L1139.2 660.9 L1141.2 661.2 L1143.2 662.0 L1145.2 662.0 L1147.2 662.4 L1149.2 662.5 L1151.2 661.9 L1153.2 662.5 L1155.2 661.3 L1157.2 662.7 L1159.2 661.9 L1161.2 661.6 L1163.2 662.5 L1165.2 662.7 L1167.2 662.0 L1169.2 661.6 L1171.2 662.8 L1173.2 662.7 L1175.2 662.4 L1177.2 663.1 L1179.2 661.6 L1181.2 661.6 L1183.2 661.7 L1185.2 661.6 L1187.2 662.7 L1189.2 662.5 L1191.2 661.7 L1193.2 661.8 L1195.2 661.8 L1197.2 662.5 L1199.2 662.5 L1201.2 663.0 L1203.2 662.0 L1205.2 662.9 L1207.2 662.0 L1209.2 661.9 L1211.2 661.6 L1213.2 661.4 L1215.2 662.5 L1217.2 662.5 L1219.2 661.9 L1221.2 660.9 L1223.2 660.8 L1225.2 660.6 L1227.2 660.8 L1229.2 661.3 L1231.2 660.1 L1233.2 660.7 L1235.2 660.8 L1237.2 659.6 L1239.2 660.2 L1241.2 660.6 L1243.2 660.2 L1245.2 659.9 L1247.2 660.5 L1249.2 660.0 L1251.2 659.5 L1253.2 659.5 L1255.2 660.3 L1257.2 660.1 L1259.2 660.2 L1261.2 659.5 L1263.2 658.8 L1265.2 658.8 L1267.2 659.0 L1269.2 659.4 L1271.2 658.2 L1273.2 659.4 L1275.2 659.3 L1277.2 658.7 L1279.2 657.7 L1281.2 658.9 L1283.2 658.1 L1285.2 658.4 L1287.2 658.1 L1289.2 658.2 L1291.2 657.5 L1293.2 658.2 L1295.2 658.1 L1297.2 657.9 L1299.2 657.2 L1301.2 656.6 L1303.2 656.6 L1305.2 656.3 L1307.2 657.2 L1309.2 656.9 L1311.2 656.8 L1313.2 656.7 L1315.2 656.9 L1317.2 656.3 L1319.2 655.6 L1321.2 656.2 L1323.2 655.3 L1325.2 655.8 L1327.2 655.0 L1329.2 656.0 L1331.2 655.3 L1333.2 654.8 L1335.2 655.7 L1337.2 654.3 L1339.2 655.5 L1341.2 655.1 L1343.2 654.0 L1345.2 654.9 L1347.2 654.5 L1349.2 654.9 L1351.2 654.3 L1353.2 653.9 L1355.2 654.6 L1357.2 653.1 L1359.2 654.1 L1361.2 652.9 L1363.2 653.1 L1365.2 652.7 L1367.2 653.8 L1369.2 653.0 L1371.2 653.4 L1373.2 652.6 L1375.2 653.2 L1377.2 653.0 L1379.2 652.1 L1381.2 652.6 L1383.2 652.9 L1385.2 652.0 L1387.2 652.7 L1389.2 652.0 L1391.2 652.1 L1393.2 653.0 L1395.2 653.0 L1397.2 653.0 L1399.2 652.1 L1401.2 652.3 L1403.2 652.7 L1405.2 652.6 L1407.2 652.1 L1409.2 652.8 L1411.2 652.1 L1413.2 653.0 L1415.2 652.2 L1417.2 651.7 L1419.2 652.7 L1421.2 651.8 L1423.2 652.7 L1425.2 651.7 L1427.2 653.2 L1429.2 652.5 L1431.2 652.9 L1433.2 651.9 L1435.2 652.7 L1437.2 652.3 L1439.2 652.1 L1441.2 653.1 L1443.2 651.8 L1445.2 652.5 L1447.2 651.9 L1449.2 653.1 L1451.2 653.2 L1453.2 651.8 L1455.2 652.5 L1457.2 652.5 L1459.2 652.9 L1461.2 652.9 L1463.2 652.3 L1465.2 653.2 L1467.2 652.0 L1469.2 652.0 L1471.2 653.0 L1473.2 651.9 L1475.2 652.0 L1477.2 652.5 L1479.2 652.2 L1481.2 651.9 L1483.2 653.1 L1485.2 652.3 L1487.2 652.8 L1489.2 651.9 L1491.2 652.9 L1493.2 651.8 L1495.2 652.9 L1497.2 652.4 L1499.2 652.9 L1501.2 652.6 L1503.2 652.4 L1505.2 652.2 L1507.2 652.7 L1509.2 652.0 L1511.2 651.5 L1513.2 652.8 L1515.2 652.6 L1517.2 652.4 L1519.2 652.5 L1521.2 651.7 L1523.2 652.1 L1525.2 652.6 L1527.2 652.9 L1529.2 652.8 L1531.2 651.5 L1533.2 652.3 L1535.2 652.1 L1537.2 651.8 L1539.2 651.4 L1541.2 651.3 L1543.2 651.8 L1545.2 651.7 L1547.2 651.3 L1549.2 651.4 L1551.2 651.6 L1553.2 651.9 L1555.2 651.5 L1557.2 650.8 L1559.2 651.9 L1561.2 650.9 L1563.2 651.8 L1565.2 651.7 L1567.2 650.3 L1569.2 650.9 L1571.2 651.4 L1573.2 650.4 L1575.2 650.5 L1577.2 650.0 L1579.2 649.5 L1581.2 649.6 L1583.2 649.4 L1585.2 649.5 L1587.2 649.9 L1589.2 649.7 L1591.2 650.1 L1593.2 649.6 L1595.2 648.9 L1597.2 649.7 L1599.2 649.1 L1601.2 648.8 L1603.2 649.1 L1605.2 648.7 L1607.2 648.0 L1609.2 648.3 L1611.2 647.6 L1613.2 648.5 L1615.2 647.2 L1617.2 648.2 L1619.2 646.6 L1621.2 646.4 L1623.2 647.1 L1625.2 646.4 L1627.2 646.8 L1629.2 646.0 L1631.2 647.0 L1633.2 646.5 L1635.2 646.4 L1637.2 646.6 L1639.2 646.5 L1641.2 645.8 L1643.2 645.7 L1645.2 644.3 L1647.2 644.2 L1649.2 644.6 L1651.2 645.2 L1653.2 643.9 L1655.2 644.1 L1657.2 642.9 L1659.2 643.3 L1661.2 643.9 L1663.2 643.1 L1665.2 643.2 L1667.2 641.6 L1669.2 641.7 L1671.2 641.4 L1673.2 642.1 L1675.2 640.7 L1677.2 641.7 L1679.2 640.4 L1681.2 641.1 L1683.2 640.2 L1685.2 639.6 L1687.2 640.3 L1689.2 639.0 L1691.2 639.2 L1693.2 637.8 L1695.2 638.6 L1697.2 638.4 L1699.2 636.6 L1701.2 637.1 L1703.2 635.9 L1705.2 635.2 L1707.2 635.0 L1709.2 634.9 L1711.2 634.8 L1713.2 634.3 L1715.2 633.7 L1717.2 632.5 L1719.2 631.9 L1721.2 630.6 L1723.2 630.9 L1725.2 630.1 L1727.2 629.2 L1729.2 629.6 L1731.2 628.0 L1733.2 627.3 L1735.2 626.9 L1737.2 626.4 L1739.2 626.6 L1741.2 626.5 L1743.2 625.0 L1745.2 625.1 L1747.2 624.7 L1749.2 624.2 L1751.2 623.5 L1753.2 623.2 L1755.2 621.9 L1757.2 621.4 L1759.2 621.5 L1761.2 620.6 L1763.2 620.9 L1765.2 619.5 L1767.2 619.9 L1769.2 618.4 L1771.2 617.7 L1773.2 617.7 L1775.2 617.1 L1777.2 616.5 L1779.2 616.7 L1781.2 615.4 L1783.2 615.7 L1785.2 615.5 L1787.2 614.5 L1789.2 614.2 L1791.2 614.6 L1793.2 613.7 L1795.2 612.7 L1797.2 612.3 L1799.2 612.0 L1801.2 612.1 L1803.2 611.5 L1805.2 612.1 L1807.2 611.5 L1809.2 611.0 L1811.2 611.0 L1813.2 611.4 L1815.2 609.9 L1817.2 609.4 L1819.2 609.3 L1821.2 608.9 L1823.2 609.5 L1825.2 608.8 L1827.2 607.9 L1829.2 607.1 L1831.2 606.6 L1833.2 606.4 L1835.2 607.3 L1835.9 606.7" stroke="#7B4F4F"/>
<path d="M371.2 595.1 L373.2 591.6 L375.2 586.2 L377.2 583.4 L379.2 580.6 L381.2 578.4 L383.2 577.9 L385.2 576.8 L387.2 575.6 L389.2 574.4 L391.2 574.7 L393.2 573.9 L395.2 573.8 L397.2 572.4 L399.2 573.2 L401.2 571.3 L403.2 571.4 L405.2 571.6 L407.2 571.3 L409.2 571.4 L411.2 572.7 L413.2 573.5 L415.2 572.9 L417.2 573.3 L419.2 574.7 L421.2 574.7 L423.2 575.8 L425.2 577.0 L427.2 577.5 L429.2 577.9 L431.2 578.6 L433.2 580.3 L435.2 581.9 L437.2 582.8 L439.2 582.4 L441.2 584.0 L443.2 585.0 L445.2 585.6 L447.2 587.3 L449.2 588.1 L451.2 589.6 L453.2 589.7 L455.2 591.7 L457.2 592.6 L459.2 593.0 L461.2 593.5 L463.2 595.1 L465.2 595.7 L467.2 597.6 L469.2 598.8 L471.2 599.6 L473.2 601.3 L475.2 600.9 L477.2 603.0 L479.2 604.1 L481.2 604.0 L483.2 605.4 L485.2 606.0 L487.2 607.8 L489.2 609.1 L491.2 609.5 L493.2 611.1 L495.2 611.6 L497.2 613.3 L499.2 613.7 L501.2 616.0 L503.2 616.3 L505.2 616.8 L507.2 618.1 L509.2 620.3 L511.2 621.8 L513.2 622.6 L515.2 623.1 L517.2 625.4 L519.2 626.4 L521.2 626.7 L523.2 628.3 L525.2 630.0 L527.2 630.1 L529.2 631.4 L531.2 633.1 L533.2 635.1 L535.2 636.5 L537.2 636.6 L539.2 638.8 L541.2 639.7 L543.2 641.0 L545.2 641.7 L547.2 643.5 L549.2 644.0 L551.2 645.6 L553.2 646.1 L555.2 646.6 L557.2 648.1 L559.2 649.1 L561.2 649.9 L563.2 651.0 L565.2 652.2 L567.2 653.3 L569.2 653.7 L571.2 654.8 L573.2 656.2 L575.2 657.2 L577.2 658.0 L579.2 659.4 L581.2 659.6 L583.2 661.1 L585.2 661.6 L587.2 663.3 L589.2 664.1 L591.2 665.0 L593.2 665.3 L595.2 665.6 L597.2 667.3 L599.2 667.2 L601.2 667.5 L603.2 667.7 L605.2 668.2 L607.2 668.9 L609.2 669.2 L611.2 668.8 L613.2 669.4 L615.2 668.6 L617.2 669.2 L619.2 669.2 L621.2 669.3 L623.2 669.7 L625.2 670.7 L627.2 671.1 L629.2 670.7 L631.2 671.3 L633.2 672.8 L635.2 673.2 L637.2 674.0 L639.2 674.6 L641.2 675.5 L643.2 675.7 L645.2 676.2 L647.2 677.5 L649.2 677.8 L651.2 680.2 L653.2 680.4 L655.2 681.5 L657.2 682.8 L659.2 683.4 L661.2 683.2 L663.2 684.2 L665.2 684.5 L667.2 686.3 L669.2 686.8 L671.2 687.0 L673.2 687.5 L675.2 687.9 L677.2 688.8 L679.2 689.7 L681.2 690.5 L683.2 691.0 L685.2 691.6 L687.2 691.4 L689.2 692.0 L691.2 692.3 L693.2 693.9 L695.2 693.2 L697.2 693.7 L699.2 694.5 L701.2 696.1 L703.2 696.5 L705.2 696.2 L707.2 697.6 L709.2 698.2 L711.2 698.0 L713.2 698.2 L715.2 699.6 L717.2 699.6 L719.2 699.7 L721.2 701.5 L723.2 701.3 L725.2 701.8 L727.2 702.7 L729.2 702.7 L731.2 702.9 L733.2 704.0 L735.2 704.5 L737.2 704.5 L739.2 705.6 L741.2 706.8 L743.2 706.6 L745.2 707.7 L747.2 708.2 L749.2 708.0 L751.2 708.2 L753.2 709.8 L755.2 710.2 L757.2 710.2 L759.2 710.6 L761.2 712.1 L763.2 712.7 L765.2 712.1 L767.2 713.2 L769.2 713.7 L771.2 713.8 L773.2 713.8 L775.2 714.7 L777.2 715.7 L779.2 716.1 L781.2 716.4 L783.2 716.3 L785.2 716.9 L787.2 717.5 L789.2 718.1 L791.2 718.5 L793.2 719.8 L795.2 719.0 L797.2 720.8 L799.2 720.1 L801.2 721.6 L803.2 721.0 L805.2 722.1 L807.2 722.2 L809.2 722.2 L811.2 723.9 L813.2 724.4 L815.2 724.1 L817.2 725.4 L819.2 725.4 L821.2 726.8 L823.2 725.8 L825.2 726.9 L827.2 727.2 L829.2 728.4 L831.2 729.2 L833.2 729.8 L835.2 729.9 L837.2 730.2 L839.2 731.4 L841.2 730.8 L843.2 731.5 L845.2 732.8 L847.2 732.8 L849.2 734.2 L851.2 733.2 L853.2 734.3 L855.2 734.3 L857.2 734.5 L859.2 735.0 L861.2 735.5 L863.2 736.4 L865.2 736.9 L867.2 737.4 L869.2 737.5 L871.2 738.6 L873.2 738.7 L875.2 739.8 L877.2 738.9 L879.2 739.8 L881.2 740.1 L883.2 740.3 L885.2 741.4 L887.2 740.8 L889.2 742.2 L891.2 741.7 L893.2 742.0 L895.2 742.8 L897.2 743.1 L899.2 743.0 L901.2 743.0 L903.2 744.7 L905.2 744.1 L907.2 744.1 L909.2 745.3 L911.2 745.4 L913.2 745.4 L915.2 745.8 L917.2 746.9 L919.2 746.5 L921.2 747.0 L923.2 748.2 L925.2 747.6 L927.2 748.0 L929.2 748.0 L931.2 749.2 L933.2 749.6 L935.2 749.6 L937.2 749.9 L939.2 750.0 L941.2 751.3 L943.2 751.2 L945.2 752.2 L947.2 751.8 L949.2 752.7 L951.2 752.0 L953.2 752.6 L955.2 754.1 L957.2 753.9 L959.2 754.2 L961.2 754.2 L963.2 754.4 L965.2 754.2 L967.2 754.4 L969.2 755.5 L971.2 755.8 L973.2 755.4 L975.2 756.3 L977.2 755.7 L979.2 756.8 L981.2 756.4 L983.2 757.3 L985.2 757.3 L987.2 758.1 L989.2 757.8 L991.2 758.7 L993.2 759.4 L995.2 759.0 L997.2 759.7 L999.2 760.7 L1001.2 760.8 L1003.2 761.4 L1005.2 762.0 L1007.2 762.0 L1009.2 761.9 L1011.2 762.6 L1013.2 763.5 L1015.2 763.5 L1017.2 764.1 L1019.2 763.8 L1021.2 764.3 L1023.2 765.4 L1025.2 765.5 L1027.2 765.5 L1029.2 764.9 L1031.2 766.0 L1033.2 765.4 L1035.2 767.1 L1037.2 767.4 L1039.2 767.3 L1041.2 766.9 L1043.2 768.1 L1045.2 767.3 L1047.2 768.6 L1049.2 768.3 L1051.2 767.8 L1053.2 769.4 L1055.2 769.0 L1057.2 769.8 L1059.2 769.9 L1061.2 769.9 L1063.2 770.6 L1065.2 769.8 L1067.2 771.2 L1069.2 770.6 L1071.2 770.3 L1073.2 771.1 L1075.2 770.9 L1077.2 771.1 L1079.2 772.3 L1081.2 771.7 L1083.2 772.1 L1085.2 772.5 L1087.2 772.8 L1089.2 774.0 L1091.2 774.3 L1093.2 774.5 L1095.2 774.9 L1097.2 774.2 L1099.2 775.0 L1101.2 774.4 L1103.2 775.7 L1105.2 775.7 L1107.2 775.8 L1109.2 775.2 L1111.2 775.1 L1113.2 776.6 L1115.2 776.2 L1117.2 776.5 L1119.2 777.0 L1121.2 776.0 L1123.2 777.1 L1125.2 776.8 L1127.2 777.5 L1129.2 777.1 L1131.2 776.9 L1133.2 778.2 L1135.2 777.3 L1137.2 778.2 L1139.2 778.5 L1141.2 777.7 L1143.2 778.5 L1145.2 778.2 L1147.2 778.1 L1149.2 778.2 L1151.2 779.5 L1153.2 778.8 L1155.2 779.1 L1157.2 779.3 L1159.2 778.7 L1161.2 780.0 L1163.2 780.1 L1165.2 780.5 L1167.2 779.8 L1169.2 779.7 L1171.2 780.1 L1173.2 780.9 L1175.2 781.0 L1177.2 780.7 L1179.2 781.1 L1181.2 780.7 L1183.2 782.0 L1185.2 781.5 L1187.2 781.7 L1189.2 782.3 L1191.2 781.5 L1193.2 782.5 L1195.2 782.0 L1197.2 782.8 L1199.2 781.8 L1201.2 782.1 L1203.2 782.8 L1205.2 782.6 L1207.2 782.4 L1209.2 782.8 L1211.2 782.2 L1213.2 782.6 L1215.2 781.9 L1217.2 783.2 L1219.2 782.3 L1221.2 783.3 L1223.2 782.8 L1225.2 782.9 L1227.2 782.9 L1229.2 782.1 L1231.2 783.2 L1233.2 782.4 L1235.2 783.3 L1237.2 783.2 L1239.2 783.1 L1241.2 783.3 L1243.2 782.7 L1245.2 783.1 L1247.2 783.6 L1249.2 782.4 L1251.2 782.3 L1253.2 782.8 L1255.2 783.0 L1257.2 782.5 L1259.2 782.7 L1261.2 783.8 L1263.2 783.0 L1265.2 782.7 L1267.2 782.8 L1269.2 783.5 L1271.2 783.0 L1273.2 783.5 L1275.2 783.6 L1277.2 783.5 L1279.2 783.7 L1281.2 784.3 L1283.2 783.0 L1285.2 784.6 L1287.2 783.4 L1289.2 783.2 L1291.2 784.4 L1293.2 784.2 L1295.2 784.1 L1297.2 783.7 L1299.2 784.6 L1301.2 783.8 L1303.2 784.5 L1305.2 783.8 L1307.2 784.3 L1309.2 784.4 L1311.2 784.0 L1313.2 784.2 L1315.2 783.5 L1317.2 784.5 L1319.2 784.5 L1321.2 783.7 L1323.2 784.3 L1325.2 784.6 L1327.2 783.6 L1329.2 784.8 L1331.2 784.9 L1333.2 783.6 L1335.2 783.9 L1337.2 783.7 L1339.2 784.0 L1341.2 783.7 L1343.2 784.4 L1345.2 784.1 L1347.2 784.2 L1349.2 784.5 L1351.2 784.4 L1353.2 785.1 L1355.2 785.1 L1357.2 784.1 L1359.2 784.4 L1361.2 784.1 L1363.2 784.6 L1365.2 784.3 L1367.2 785.3 L1369.2 785.4 L1371.2 785.8 L1373.2 784.6 L1375.2 784.3 L1377.2 785.5 L1379.2 784.9 L1381.2 785.7 L1383.2 784.9 L1385.2 784.8 L1387.2 784.4 L1389.2 785.8 L1391.2 785.1 L1393.2 785.0 L1395.2 785.0 L1397.2 785.6 L1399.2 785.7 L1401.2 785.2 L1403.2 784.7 L1405.2 785.2 L1407.2 786.0 L1409.2 785.3 L1411.2 785.8 L1413.2 785.8 L1415.2 785.7 L1417.2 786.1 L1419.2 785.7 L1421.2 786.3 L1423.2 787.0 L1425.2 785.9 L1427.2 786.5 L1429.2 787.5 L1431.2 787.9 L1433.2 786.5 L1435.2 787.7 L1437.2 787.8 L1439.2 788.4 L1441.2 787.9 L1443.2 787.6 L1445.2 788.0 L1447.2 788.8 L1449.2 789.0 L1451.2 788.3 L1453.2 789.2 L1455.2 789.3 L1457.2 789.5 L1459.2 788.6 L1461.2 789.4 L1463.2 789.4 L1465.2 789.9 L1467.2 789.6 L1469.2 789.4 L1471.2 790.3 L1473.2 789.8 L1475.2 790.7 L1477.2 790.0 L1479.2 790.4 L1481.2 790.9 L1483.2 789.9 L1485.2 790.9 L1487.2 789.9 L1489.2 791.3 L1491.2 789.9 L1493.2 791.1 L1495.2 790.6 L1497.2 790.3 L1499.2 790.7 L1501.2 790.9 L1503.2 790.8 L1505.2 790.3 L1507.2 791.0 L1509.2 790.6 L1511.2 791.7 L1513.2 790.8 L1515.2 790.9 L1517.2 790.6 L1519.2 791.8 L1521.2 790.8 L1523.2 791.4 L1525.2 791.7 L1527.2 791.0 L1529.2 791.6 L1531.2 790.9 L1533.2 790.7 L1535.2 790.6 L1537.2 791.3 L1539.2 792.1 L1541.2 791.0 L1543.2 791.5 L1545.2 792.0 L1547.2 791.3 L1549.2 791.1 L1551.2 791.7 L1553.2 791.6 L1555.2 792.4 L1557.2 792.4 L1559.2 791.4 L1561.2 791.9 L1563.2 791.7 L1565.2 791.1 L1567.2 791.7 L1569.2 792.5 L1571.2 791.5 L1573.2 791.9 L1575.2 792.1 L1577.2 791.1 L1579.2 792.5 L1581.2 791.1 L1583.2 791.4 L1585.2 792.1 L1587.2 790.9 L1589.2 791.5 L1591.2 791.0 L1593.2 791.6 L1595.2 790.8 L1597.2 791.0 L1599.2 791.0 L1601.2 790.7 L1603.2 790.7 L1605.2 790.8 L1607.2 791.2 L1609.2 790.6 L1611.2 791.6 L1613.2 790.9 L1615.2 790.5 L1617.2 790.4 L1619.2 791.3 L1621.2 789.9 L1623.2 791.0 L1625.2 789.8 L1627.2 791.1 L1629.2 790.1 L1631.2 790.3 L1633.2 790.6 L1635.2 789.3 L1637.2 789.1 L1639.2 790.0 L1641.2 789.7 L1643.2 789.8 L1645.2 789.0 L1647.2 789.2 L1649.2 788.5 L1651.2 788.8 L1653.2 788.4 L1655.2 788.8 L1657.2 788.1 L1659.2 787.9 L1661.2 788.4 L1663.2 787.3 L1665.2 788.3 L1667.2 787.6 L1669.2 787.0 L1671.2 786.6 L1673.2 787.0 L1675.2 786.8 L1677.2 786.9 L1679.2 786.2 L1681.2 786.0 L1683.2 786.5 L1685.2 785.3 L1687.2 786.1 L1689.2 785.7 L1691.2 785.6 L1693.2 785.2 L1695.2 783.8 L1697.2 784.4 L1699.2 783.8 L1701.2 782.8 L1703.2 783.7 L1705.2 782.8 L1707.2 782.7 L1709.2 781.9 L1711.2 780.8 L1713.2 781.6 L1715.2 780.1 L1717.2 779.8 L1719.2 780.0 L1721.2 778.9 L1723.2 778.9 L1725.2 778.9 L1727.2 777.5 L1729.2 778.0 L1731.2 776.6 L1733.2 776.8 L1735.2 776.7 L1737.2 776.3 L1739.2 774.8 L1741.2 774.6 L1743.2 775.3 L1745.2 774.0 L1747.2 773.5 L1749.2 773.0 L1751.2 773.0 L1753.2 772.5 L1755.2 771.9 L1757.2 771.0 L1759.2 770.7 L1761.2 770.1 L1763.2 769.1 L1765.2 769.9 L1767.2 769.5 L1769.2 768.8 L1771.2 768.8 L1773.2 767.7 L1775.2 768.0 L1777.2 766.8 L1779.2 767.3 L1781.2 767.1 L1783.2 767.3 L1785.2 766.9 L1787.2 766.8 L1789.2 765.6 L1791.2 766.3 L1793.2 765.6 L1795.2 765.1 L1797.2 765.0 L1799.2 765.4 L1801.2 765.2 L1803.2 765.0 L1805.2 764.4 L1807.2 763.3 L1809.2 763.0 L1811.2 763.3 L1813.2 762.4 L1815.2 762.3 L1817.2 761.6 L1819.2 761.3 L1821.2 761.9 L1823.2 760.8 L1825.2 761.5 L1827.2 760.4 L1829.2 760.9 L1831.2 759.9 L1833.2 759.6 L1835.2 759.7 L1835.9 758.9" stroke="#8E8E00"/>
<path d="M371.2 661.6 L373.2 657.8 L375.2 653.1 L377.2 650.9 L379.2 647.8 L381.2 645.4 L383.2 645.3 L385.2 643.1 L387.2 642.3 L389.2 641.4 L391.2 641.0 L393.2 641.4 L395.2 640.7 L397.2 640.1 L399.2 639.3 L401.2 639.2 L403.2 640.3 L405.2 639.9 L407.2 641.4 L409.2 641.9 L411.2 641.5 L413.2 643.2 L415.2 642.8 L417.2 644.6 L419.2 645.6 L421.2 646.3 L423.2 647.0 L425.2 648.3 L427.2 648.3 L429.2 649.9 L431.2 650.5 L433.2 651.8 L435.2 652.6 L437.2 654.4 L439.2 655.4 L441.2 657.0 L443.2 658.0 L445.2 659.2 L447.2 660.8 L449.2 661.9 L451.2 662.8 L453.2 663.6 L455.2 665.7 L457.2 666.0 L459.2 666.7 L461.2 668.1 L463.2 669.6 L465.2 671.0 L467.2 671.6 L469.2 672.6 L471.2 674.0 L473.2 674.8 L475.2 675.4 L477.2 676.6 L479.2 678.5 L481.2 679.5 L483.2 680.9 L485.2 683.1 L487.2 684.6 L489.2 685.1 L491.2 686.9 L493.2 688.4 L495.2 688.5 L497.2 689.7 L499.2 691.5 L501.2 692.5 L503.2 694.6 L505.2 696.0 L507.2 696.5 L509.2 698.2 L511.2 699.3 L513.2 699.9 L515.2 702.3 L517.2 702.5 L519.2 703.7 L521.2 705.5 L523.2 706.2 L525.2 708.2 L527.2 709.4 L529.2 711.4 L531.2 712.0 L533.2 713.9 L535.2 715.1 L537.2 716.1 L539.2 716.9 L541.2 718.2 L543.2 719.7 L545.2 720.7 L547.2 722.2 L549.2 723.1 L551.2 724.0 L553.2 725.4 L555.2 727.0 L557.2 726.9 L559.2 728.1 L561.2 728.6 L563.2 729.7 L565.2 730.6 L567.2 732.0 L569.2 733.6 L571.2 734.3 L573.2 735.7 L575.2 736.5 L577.2 737.1 L579.2 738.0 L581.2 738.1 L583.2 739.5 L585.2 740.3 L587.2 741.6 L589.2 741.6 L591.2 743.0 L593.2 743.5 L595.2 744.3 L597.2 744.8 L599.2 744.9 L601.2 746.3 L603.2 746.8 L605.2 747.0 L607.2 746.7 L609.2 747.7 L611.2 748.5 L613.2 749.0 L615.2 749.1 L617.2 748.6 L619.2 750.2 L621.2 750.4 L623.2 750.5 L625.2 751.9 L627.2 752.4 L629.2 753.2 L631.2 753.0 L633.2 754.1 L635.2 754.5 L637.2 755.1 L639.2 756.5 L641.2 757.1 L643.2 757.4 L645.2 758.5 L647.2 759.8 L649.2 760.1 L651.2 761.3 L653.2 761.6 L655.2 763.0 L657.2 762.4 L659.2 763.7 L661.2 764.6 L663.2 765.5 L665.2 766.4 L667.2 766.6 L669.2 767.0 L671.2 767.7 L673.2 768.1 L675.2 768.9 L677.2 769.8 L679.2 769.0 L681.2 769.9 L683.2 771.2 L685.2 770.6 L687.2 772.2 L689.2 771.6 L691.2 773.0 L693.2 773.8 L695.2 773.5 L697.2 774.3 L699.2 774.6 L701.2 775.8 L703.2 776.1 L705.2 776.8 L707.2 776.9 L709.2 777.8 L711.2 778.9 L713.2 779.2 L715.2 780.0 L717.2 779.6 L719.2 780.5 L721.2 780.8 L723.2 781.3 L725.2 782.5 L727.2 782.2 L729.2 783.3 L731.2 784.1 L733.2 784.9 L735.2 784.2 L737.2 785.1 L739.2 785.9 L741.2 787.1 L743.2 786.6 L745.2 788.1 L747.2 788.1 L749.2 788.9 L751.2 790.0 L753.2 789.4 L755.2 790.3 L757.2 790.7 L759.2 791.2 L761.2 792.1 L763.2 793.2 L765.2 793.7 L767.2 793.6 L769.2 795.2 L771.2 795.3 L773.2 795.4 L775.2 797.0 L777.2 797.6 L779.2 797.3 L781.2 798.9 L783.2 799.3 L785.2 799.0 L787.2 799.3 L789.2 801.1 L791.2 801.6 L793.2 801.1 L795.2 802.6 L797.2 803.1 L799.2 803.5 L801.2 804.3 L803.2 805.1 L805.2 804.7 L807.2 805.9 L809.2 806.6 L811.2 806.2 L813.2 807.3 L815.2 807.8 L817.2 808.5 L819.2 808.7 L821.2 808.8 L823.2 809.2 L825.2 810.2 L827.2 810.1 L829.2 811.6 L831.2 812.1 L833.2 811.7 L835.2 812.8 L837.2 813.3 L839.2 813.0 L841.2 814.4 L843.2 814.8 L845.2 814.7 L847.2 814.8 L849.2 815.6 L851.2 816.7 L853.2 816.7 L855.2 817.7 L857.2 817.2 L859.2 817.6 L861.2 818.4 L863.2 819.6 L865.2 819.0 L867.2 819.3 L869.2 820.7 L871.2 820.2 L873.2 821.5 L875.2 821.1 L877.2 821.8 L879.2 822.8 L881.2 823.6 L883.2 823.4 L885.2 823.9 L887.2 823.7 L889.2 824.6 L891.2 824.9 L893.2 826.2 L895.2 826.5 L897.2 827.1 L899.2 827.2 L901.2 827.8 L903.2 827.5 L905.2 828.3 L907.2 828.6 L909.2 829.1 L911.2 830.2 L913.2 829.9 L915.2 830.5 L917.2 830.9 L919.2 832.1 L921.2 832.3 L923.2 832.5 L925.2 832.8 L927.2 834.0 L929.2 834.5 L931.2 834.2 L933.2 834.8 L935.2 835.7 L937.2 835.3 L939.2 835.7 L941.2 835.9 L943.2 836.9 L945.2 837.6 L947.2 837.2 L949.2 837.9 L951.2 839.1 L953.2 838.7 L955.2 839.0 L957.2 839.9 L959.2 840.3 L961.2 839.9 L963.2 839.9 L965.2 840.9 L967.2 841.4 L969.2 842.0 L971.2 841.9 L973.2 841.8 L975.2 842.4 L977.2 842.4 L979.2 843.0 L981.2 843.4 L983.2 844.4 L985.2 844.8 L987.2 845.3 L989.2 845.1 L991.2 846.2 L993.2 845.5 L995.2 847.0 L997.2 847.1 L999.2 847.9 L1001.2 847.7 L1003.2 849.0 L1005.2 848.1 L1007.2 849.7 L1009.2 850.1 L1011.2 850.0 L1013.2 851.1 L1015.2 850.7 L1017.2 851.9 L1019.2 852.0 L1021.2 852.3 L1023.2 852.5 L1025.2 853.8 L1027.2 854.2 L1029.2 853.7 L1031.2 855.4 L1033.2 854.8 L1035.2 855.4 L1037.2 855.9 L1039.2 856.5 L1041.2 857.4 L1043.2 857.9 L1045.2 857.8 L1047.2 857.8 L1049.2 857.8 L1051.2 858.2 L1053.2 859.1 L1055.2 859.6 L1057.2 859.8 L1059.2 860.9 L1061.2 860.4 L1063.2 860.7 L1065.2 861.1 L1067.2 861.1 L1069.2 862.5 L1071.2 862.3 L1073.2 862.6 L1075.2 862.8 L1077.2 862.8 L1079.2 863.2 L1081.2 863.8 L1083.2 864.0 L1085.2 865.1 L1087.2 864.8 L1089.2 864.6 L1091.2 864.7 L1093.2 865.2 L1095.2 865.7 L1097.2 866.6 L1099.2 867.1 L1101.2 866.4 L1103.2 867.5 L1105.2 867.3 L1107.2 867.7 L1109.2 867.9 L1111.2 867.5 L1113.2 867.8 L1115.2 868.9 L1117.2 869.2 L1119.2 869.0 L1121.2 870.0 L1123.2 870.1 L1125.2 869.6 L1127.2 869.6 L1129.2 870.5 L1131.2 870.9 L1133.2 870.6 L1135.2 870.6 L1137.2 871.5 L1139.2 871.2 L1141.2 872.5 L1143.2 872.7 L1145.2 872.5 L1147.2 873.1 L1149.2 873.1 L1151.2 873.4 L1153.2 873.8 L1155.2 875.0 L1157.2 874.9 L1159.2 875.6 L1161.2 875.4 L1163.2 876.3 L1165.2 876.3 L1167.2 876.7 L1169.2 876.6 L1171.2 877.1 L1173.2 876.8 L1175.2 878.1 L1177.2 877.9 L1179.2 877.9 L1181.2 878.2 L1183.2 877.7 L1185.2 878.1 L1187.2 878.2 L1189.2 879.2 L1191.2 878.1 L1193.2 878.9 L1195.2 879.6 L1197.2 879.7 L1199.2 879.7 L1201.2 879.3 L1203.2 879.4 L1205.2 880.2 L1207.2 879.8 L1209.2 880.5 L1211.2 880.2 L1213.2 880.9 L1215.2 880.9 L1217.2 881.4 L1219.2 881.8 L1221.2 881.2 L1223.2 882.2 L1225.2 881.1 L1227.2 882.5 L1229.2 881.6 L1231.2 882.6 L1233.2 882.6 L1235.2 883.4 L1237.2 883.0 L1239.2 883.1 L1241.2 884.2 L1243.2 884.1 L1245.2 884.6 L1247.2 884.4 L1249.2 883.9 L1251.2 885.1 L1253.2 884.5 L1255.2 885.0 L1257.2 884.5 L1259.2 884.9 L1261.2 885.6 L1263.2 885.9 L1265.2 885.8 L1267.2 885.6 L1269.2 886.1 L1271.2 886.2 L1273.2 885.6 L1275.2 886.2 L1277.2 886.4 L1279.2 886.8 L1281.2 886.2 L1283.2 886.5 L1285.2 886.7 L1287.2 886.5 L1289.2 887.0 L1291.2 887.7 L1293.2 887.6 L1295.2 887.2 L1297.2 888.1 L1299.2 887.4 L1301.2 888.5 L1303.2 887.8 L1305.2 887.9 L1307.2 888.2 L1309.2 888.7 L1311.2 888.6 L1313.2 889.6 L1315.2 889.8 L1317.2 889.0 L1319.2 889.8 L1321.2 889.9 L1323.2 889.9 L1325.2 889.6 L1327.2 890.7 L1329.2 890.9 L1331.2 889.7 L1333.2 890.3 L1335.2 890.4 L1337.2 890.4 L1339.2 890.9 L1341.2 891.7 L1343.2 890.6 L1345.2 891.9 L1347.2 891.3 L1349.2 891.1 L1351.2 892.4 L1353.2 891.7 L1355.2 891.8 L1357.2 891.8 L1359.2 892.3 L1361.2 892.1 L1363.2 892.3 L1365.2 892.6 L1367.2 893.2 L1369.2 893.1 L1371.2 893.1 L1373.2 893.6 L1375.2 894.0 L1377.2 894.1 L1379.2 893.7 L1381.2 894.7 L1383.2 894.7 L1385.2 894.5 L1387.2 894.5 L1389.2 894.5 L1391.2 894.3 L1393.2 895.6 L1395.2 895.3 L1397.2 894.8 L1399.2 896.1 L1401.2 896.2 L1403.2 895.2 L1405.2 896.3 L1407.2 895.8 L1409.2 896.4 L1411.2 897.0 L1413.2 896.5 L1415.2 896.9 L1417.2 897.4 L1419.2 896.9 L1421.2 897.7 L1423.2 897.6 L1425.2 898.6 L1427.2 897.7 L1429.2 898.7 L1431.2 897.9 L1433.2 898.5 L1435.2 898.5 L1437.2 898.8 L1439.2 899.5 L1441.2 899.3 L1443.2 900.4 L1445.2 899.7 L1447.2 900.6 L1449.2 901.2 L1451.2 900.4 L1453.2 900.8 L1455.2 901.8 L1457.2 901.7 L1459.2 902.6 L1461.2 902.0 L1463.2 902.3 L1465.2 903.3 L1467.2 902.7 L1469.2 903.8 L1471.2 903.9 L1473.2 903.1 L1475.2 903.8 L1477.2 904.6 L1479.2 903.6 L1481.2 904.9 L1483.2 905.0 L1485.2 905.1 L1487.2 905.1 L1489.2 904.6 L1491.2 906.0 L1493.2 905.1 L1495.2 906.3 L1497.2 906.4 L1499.2 906.1 L1501.2 906.9 L1503.2 906.8 L1505.2 907.6 L1507.2 906.9 L1509.2 908.5 L1511.2 908.1 L1513.2 909.0 L1515.2 908.8 L1517.2 909.6 L1519.2 909.2 L1521.2 909.8 L1523.2 909.3 L1525.2 910.2 L1527.2 909.8 L1529.2 911.0 L1531.2 910.9 L1533.2 910.7 L1535.2 911.6 L1537.2 911.6 L1539.2 911.7 L1541.2 910.5 L1543.2 911.4 L1545.2 911.5 L1547.2 911.4 L1549.2 910.6 L1551.2 911.9 L1553.2 911.2 L1555.2 911.5 L1557.2 911.8 L1559.2 911.0 L1561.2 910.7 L1563.2 912.0 L1565.2 911.1 L1567.2 910.8 L1569.2 910.9 L1571.2 912.2 L1573.2 911.8 L1575.2 911.2 L1577.2 911.2 L1579.2 912.3 L1581.2 912.2 L1583.2 912.2 L1585.2 911.8 L1587.2 912.4 L1589.2 913.3 L1591.2 912.2 L1593.2 913.0 L1595.2 912.7 L1597.2 914.2 L1599.2 913.1 L1601.2 914.5 L1603.2 914.4 L1605.2 914.4 L1607.2 913.5 L1609.2 914.4 L1611.2 914.2 L1613.2 914.2 L1615.2 913.7 L1617.2 914.3 L1619.2 914.7 L1621.2 913.7 L1623.2 914.8 L1625.2 914.1 L1627.2 913.9 L1629.2 913.9 L1631.2 914.2 L1633.2 914.5 L1635.2 914.3 L1637.2 914.8 L1639.2 914.3 L1641.2 914.3 L1643.2 914.9 L1645.2 913.8 L1647.2 913.5 L1649.2 913.9 L1651.2 913.9 L1653.2 913.6 L1655.2 913.9 L1657.2 913.3 L1659.2 914.5 L1661.2 913.8 L1663.2 914.3 L1665.2 913.9 L1667.2 913.8 L1669.2 913.7 L1671.2 912.9 L1673.2 913.4 L1675.2 912.5 L1677.2 912.8 L1679.2 912.7 L1681.2 912.8 L1683.2 911.8 L1685.2 911.8 L1687.2 912.4 L1689.2 912.2 L1691.2 912.3 L1693.2 910.9 L1695.2 910.9 L1697.2 910.6 L1699.2 911.3 L1701.2 911.2 L1703.2 910.9 L1705.2 910.9 L1707.2 910.4 L1709.2 910.2 L1711.2 910.6 L1713.2 910.0 L1715.2 909.8 L1717.2 909.5 L1719.2 909.2 L1721.2 909.3 L1723.2 908.8 L1725.2 908.0 L1727.2 908.1 L1729.2 907.9 L1731.2 907.6 L1733.2 907.5 L1735.2 907.0 L1737.2 906.8 L1739.2 906.5 L1741.2 906.2 L1743.2 906.7 L1745.2 905.1 L1747.2 904.7 L1749.2 905.3 L1751.2 904.4 L1753.2 904.1 L1755.2 903.9 L1757.2 903.1 L1759.2 902.4 L1761.2 901.6 L1763.2 902.4 L1765.2 902.0 L1767.2 900.7 L1769.2 900.6 L1771.2 900.1 L1773.2 899.4 L1775.2 900.4 L1777.2 900.2 L1779.2 899.3 L1781.2 899.3 L1783.2 899.9 L1785.2 900.0 L1787.2 899.5 L1789.2 899.4 L1791.2 899.1 L1793.2 899.8 L1795.2 899.7 L1797.2 899.6 L1799.2 898.3 L1801.2 898.8 L1803.2 899.1 L1805.2 898.5 L1807.2 897.9 L1809.2 897.2 L1811.2 896.9 L1813.2 897.6 L1815.2 896.5 L1817.2 897.3 L1819.2 897.0 L1821.2 896.6 L1823.2 897.0 L1825.2 897.0 L1827.2 896.5 L1829.2 895.7 L1831.2 896.4 L1833.2 896.1 L1835.2 895.8 L1835.9 896.8" stroke="#F96600"/>
<path d="M371.2 894.0 L373.2 891.0 L375.2 887.7 L377.2 884.6 L379.2 882.2 L381.2 880.0 L383.2 878.7 L385.2 878.0 L387.2 877.0 L389.2 876.9 L391.2 876.4 L393.2 876.7 L395.2 876.7 L397.2 876.4 L399.2 876.8 L401.2 877.0 L403.2 878.1 L405.2 879.4 L407.2 880.7 L409.2 881.8 L411.2 882.8 L413.2 884.1 L415.2 885.8 L417.2 887.0 L419.2 888.7 L421.2 890.5 L423.2 892.3 L425.2 893.7 L427.2 895.2 L429.2 897.0 L431.2 898.4 L433.2 900.4 L435.2 901.7 L437.2 903.5 L439.2 905.3 L441.2 907.3 L443.2 908.5 L445.2 910.3 L447.2 911.9 L449.2 913.6 L451.2 915.3 L453.2 916.9 L455.2 918.7 L457.2 920.1 L459.2 921.7 L461.2 923.3 L463.2 925.1 L465.2 926.7 L467.2 927.8 L469.2 929.5 L471.2 930.6 L473.2 932.4 L475.2 933.6 L477.2 935.1 L479.2 936.3 L481.2 937.8 L483.2 939.2 L485.2 941.2 L487.2 942.5 L489.2 944.2 L491.2 945.6 L493.2 947.2 L495.2 948.6 L497.2 950.1 L499.2 951.7 L501.2 953.4 L503.2 954.8 L505.2 955.9 L507.2 957.8 L509.2 959.0 L511.2 960.2 L513.2 961.7 L515.2 963.0 L517.2 964.8 L519.2 965.9 L521.2 967.1 L523.2 968.3 L525.2 969.7 L527.2 971.0 L529.2 972.3 L531.2 973.9 L533.2 975.3 L535.2 976.6 L537.2 978.1 L539.2 979.3 L541.2 980.4 L543.2 981.7 L545.2 983.2 L547.2 984.6 L549.2 986.0 L551.2 987.5 L553.2 988.6 L555.2 989.7 L557.2 990.8 L559.2 992.4 L561.2 993.4 L563.2 994.3 L565.2 995.2 L567.2 996.9 L569.2 997.5 L571.2 999.0 L573.2 999.6 L575.2 1001.0 L577.2 1001.8 L579.2 1003.2 L581.2 1003.9 L583.2 1004.8 L585.2 1005.9 L587.2 1007.2 L589.2 1008.3 L591.2 1009.0 L593.2 1010.0 L595.2 1010.6 L597.2 1011.5 L599.2 1012.2 L601.2 1013.5 L603.2 1013.6 L605.2 1014.7 L607.2 1015.2 L609.2 1015.7 L611.2 1016.5 L613.2 1017.4 L615.2 1017.6 L617.2 1018.2 L619.2 1019.1 L621.2 1019.8 L623.2 1020.4 L625.2 1021.0 L627.2 1022.1 L629.2 1022.4 L631.2 1023.2 L633.2 1024.0 L635.2 1024.9 L637.2 1025.6 L639.2 1026.4 L641.2 1027.2 L643.2 1028.0 L645.2 1028.4 L647.2 1028.8 L649.2 1029.9 L651.2 1030.1 L653.2 1031.0 L655.2 1031.5 L657.2 1032.5 L659.2 1033.3 L661.2 1033.6 L663.2 1034.4 L665.2 1035.4 L667.2 1036.0 L669.2 1036.4 L671.2 1037.4 L673.2 1038.1 L675.2 1038.6 L677.2 1039.1 L679.2 1040.0 L681.2 1040.5 L683.2 1041.0 L685.2 1041.7 L687.2 1042.5 L689.2 1043.0 L691.2 1043.9 L693.2 1044.6 L695.2 1045.3 L697.2 1045.9 L699.2 1046.8 L701.2 1047.1 L703.2 1047.9 L705.2 1048.9 L707.2 1049.5 L709.2 1050.2 L711.2 1050.7 L713.2 1051.2 L715.2 1051.9 L717.2 1052.4 L719.2 1052.7 L721.2 1053.3 L723.2 1053.8 L725.2 1054.8 L727.2 1055.1 L729.2 1055.7 L731.2 1056.3 L733.2 1056.6 L735.2 1057.6 L737.2 1058.2 L739.2 1058.8 L741.2 1059.5 L743.2 1059.8 L745.2 1060.3 L747.2 1061.3 L749.2 1061.9 L751.2 1062.4 L753.2 1063.0 L755.2 1063.5 L757.2 1064.6 L759.2 1065.0 L761.2 1065.8 L763.2 1066.1 L765.2 1066.7 L767.2 1067.4 L769.2 1068.1 L771.2 1068.8 L773.2 1069.0 L775.2 1069.8 L777.2 1070.2 L779.2 1071.0 L781.2 1071.5 L783.2 1072.0 L785.2 1072.4 L787.2 1073.0 L789.2 1074.0 L791.2 1074.5 L793.2 1074.9 L795.2 1075.4 L797.2 1076.1 L799.2 1077.3 L801.2 1077.4 L803.2 1078.5 L805.2 1079.1 L807.2 1079.7 L809.2 1080.4 L811.2 1081.0 L813.2 1081.7 L815.2 1082.1 L817.2 1083.2 L819.2 1083.3 L821.2 1083.9 L823.2 1084.8 L825.2 1085.3 L827.2 1086.0 L829.2 1086.4 L831.2 1087.1 L833.2 1087.1 L835.2 1087.5 L837.2 1088.2 L839.2 1089.0 L841.2 1089.1 L843.2 1089.8 L845.2 1090.5 L847.2 1090.6 L849.2 1091.3 L851.2 1092.0 L853.2 1092.4 L855.2 1092.7 L857.2 1093.2 L859.2 1093.6 L861.2 1094.5 L863.2 1094.9 L865.2 1095.4 L867.2 1095.7 L869.2 1096.5 L871.2 1096.8 L873.2 1097.5 L875.2 1097.8 L877.2 1098.7 L879.2 1099.1 L881.2 1099.5 L883.2 1100.1 L885.2 1100.8 L887.2 1101.2 L889.2 1102.0 L891.2 1101.9 L893.2 1103.0 L895.2 1103.4 L897.2 1103.8 L899.2 1104.6 L901.2 1104.7 L903.2 1105.3 L905.2 1106.1 L907.2 1106.6 L909.2 1106.9 L911.2 1107.8 L913.2 1108.1 L915.2 1108.2 L917.2 1108.7 L919.2 1109.2 L921.2 1110.0 L923.2 1110.3 L925.2 1110.8 L927.2 1111.4 L929.2 1111.7 L931.2 1112.7 L933.2 1113.1 L935.2 1113.5 L937.2 1113.9 L939.2 1114.3 L941.2 1115.0 L943.2 1115.4 L945.2 1116.2 L947.2 1116.8 L949.2 1117.1 L951.2 1117.7 L953.2 1117.8 L955.2 1118.4 L957.2 1119.1 L959.2 1119.5 L961.2 1120.2 L963.2 1121.1 L965.2 1121.6 L967.2 1122.2 L969.2 1122.3 L971.2 1122.9 L973.2 1123.3 L975.2 1124.0 L977.2 1124.3 L979.2 1125.1 L981.2 1125.4 L983.2 1126.1 L985.2 1126.5 L987.2 1127.0 L989.2 1127.2 L991.2 1127.9 L993.2 1128.3 L995.2 1128.7 L997.2 1128.9 L999.2 1129.3 L1001.2 1129.6 L1003.2 1129.9 L1005.2 1130.5 L1007.2 1131.0 L1009.2 1131.2 L1011.2 1132.0 L1013.2 1132.4 L1015.2 1132.8 L1017.2 1133.2 L1019.2 1133.5 L1021.2 1133.7 L1023.2 1134.2 L1025.2 1134.9 L1027.2 1135.5 L1029.2 1135.4 L1031.2 1135.8 L1033.2 1136.5 L1035.2 1136.9 L1037.2 1137.6 L1039.2 1137.7 L1041.2 1138.6 L1043.2 1138.8 L1045.2 1139.6 L1047.2 1139.7 L1049.2 1140.1 L1051.2 1140.5 L1053.2 1141.4 L1055.2 1141.6 L1057.2 1142.2 L1059.2 1142.2 L1061.2 1143.0 L1063.2 1143.5 L1065.2 1144.1 L1067.2 1144.6 L1069.2 1144.5 L1071.2 1145.1 L1073.2 1145.9 L1075.2 1146.1 L1077.2 1146.8 L1079.2 1146.8 L1081.2 1147.1 L1083.2 1148.1 L1085.2 1148.1 L1087.2 1148.7 L1089.2 1149.0 L1091.2 1149.5 L1093.2 1150.1 L1095.2 1150.5 L1097.2 1150.9 L1099.2 1150.9 L1101.2 1151.6 L1103.2 1151.5 L1105.2 1152.2 L1107.2 1152.8 L1109.2 1152.8 L1111.2 1153.2 L1113.2 1153.7 L1115.2 1153.8 L1117.2 1154.4 L1119.2 1154.7 L1121.2 1154.7 L1123.2 1155.5 L1125.2 1155.3 L1127.2 1156.0 L1129.2 1156.1 L1131.2 1156.3 L1133.2 1156.5 L1135.2 1157.4 L1137.2 1157.5 L1139.2 1157.6 L1141.2 1158.2 L1143.2 1158.6 L1145.2 1158.9 L1147.2 1159.0 L1149.2 1159.1 L1151.2 1159.6 L1153.2 1160.2 L1155.2 1160.4 L1157.2 1160.7 L1159.2 1161.2 L1161.2 1161.3 L1163.2 1161.7 L1165.2 1162.2 L1167.2 1162.2 L1169.2 1162.9 L1171.2 1162.8 L1173.2 1163.4 L1175.2 1163.8 L1177.2 1163.8 L1179.2 1164.6 L1181.2 1164.7 L1183.2 1164.8 L1185.2 1165.3 L1187.2 1165.7 L1189.2 1165.9 L1191.2 1166.0 L1193.2 1166.3 L1195.2 1167.0 L1197.2 1166.9 L1199.2 1167.3 L1201.2 1168.0 L1203.2 1168.3 L1205.2 1168.6 L1207.2 1168.5 L1209.2 1168.8 L1211.2 1169.5 L1213.2 1169.8 L1215.2 1170.0 L1217.2 1170.2 L1219.2 1170.8 L1221.2 1171.0 L1223.2 1171.6 L1225.2 1172.2 L1227.2 1172.0 L1229.2 1172.3 L1231.2 1172.9 L1233.2 1172.9 L1235.2 1173.2 L1237.2 1173.6 L1239.2 1174.1 L1241.2 1174.0 L1243.2 1174.1 L1245.2 1174.4 L1247.2 1174.4 L1249.2 1174.7 L1251.2 1175.1 L1253.2 1175.0 L1255.2 1175.5 L1257.2 1175.3 L1259.2 1175.4 L1261.2 1175.9 L1263.2 1176.0 L1265.2 1176.5 L1267.2 1176.2 L1269.2 1176.9 L1271.2 1177.1 L1273.2 1177.2 L1275.2 1177.3 L1277.2 1177.9 L1279.2 1178.3 L1281.2 1178.4 L1283.2 1178.7 L1285.2 1179.1 L1287.2 1179.4 L1289.2 1179.6 L1291.2 1179.7 L1293.2 1180.2 L1295.2 1180.5 L1297.2 1181.0 L1299.2 1181.3 L1301.2 1181.3 L1303.2 1181.4 L1305.2 1181.6 L1307.2 1182.1 L1309.2 1182.4 L1311.2 1182.4 L1313.2 1182.9 L1315.2 1183.3 L1317.2 1183.2 L1319.2 1183.8 L1321.2 1183.8 L1323.2 1184.1 L1325.2 1184.5 L1327.2 1184.4 L1329.2 1184.7 L1331.2 1185.4 L1333.2 1185.1 L1335.2 1185.5 L1337.2 1185.8 L1339.2 1186.2 L1341.2 1186.4 L1343.2 1186.8 L1345.2 1186.8 L1347.2 1186.6 L1349.2 1186.9 L1351.2 1187.1 L1353.2 1187.5 L1355.2 1187.4 L1357.2 1187.9 L1359.2 1188.1 L1361.2 1188.0 L1363.2 1188.6 L1365.2 1188.4 L1367.2 1188.9 L1369.2 1188.7 L1371.2 1189.1 L1373.2 1189.2 L1375.2 1189.2 L1377.2 1189.7 L1379.2 1189.5 L1381.2 1189.9 L1383.2 1190.2 L1385.2 1190.8 L1387.2 1190.8 L1389.2 1190.8 L1391.2 1191.2 L1393.2 1191.7 L1395.2 1192.1 L1397.2 1192.0 L1399.2 1192.7 L1401.2 1192.7 L1403.2 1193.1 L1405.2 1193.3 L1407.2 1193.6 L1409.2 1194.2 L1411.2 1194.4 L1413.2 1194.6 L1415.2 1194.7 L1417.2 1194.9 L1419.2 1194.8 L1421.2 1194.9 L1423.2 1195.6 L1425.2 1195.7 L1427.2 1195.9 L1429.2 1195.9 L1431.2 1196.1 L1433.2 1196.8 L1435.2 1196.8 L1437.2 1196.7 L1439.2 1197.2 L1441.2 1197.4 L1443.2 1197.5 L1445.2 1198.4 L1447.2 1198.6 L1449.2 1198.8 L1451.2 1198.7 L1453.2 1199.2 L1455.2 1199.3 L1457.2 1200.0 L1459.2 1200.3 L1461.2 1200.5 L1463.2 1200.8 L1465.2 1200.7 L1467.2 1200.8 L1469.2 1201.1 L1471.2 1201.8 L1473.2 1202.0 L1475.2 1202.0 L1477.2 1202.1 L1479.2 1202.7 L1481.2 1202.4 L1483.2 1202.8 L1485.2 1202.8 L1487.2 1203.6 L1489.2 1203.4 L1491.2 1203.9 L1493.2 1204.1 L1495.2 1204.2 L1497.2 1204.7 L1499.2 1204.8 L1501.2 1205.1 L1503.2 1205.3 L1505.2 1205.1 L1507.2 1205.7 L1509.2 1205.6 L1511.2 1205.9 L1513.2 1206.2 L1515.2 1206.9 L1517.2 1206.5 L1519.2 1207.0 L1521.2 1207.1 L1523.2 1207.8 L1525.2 1207.8 L1527.2 1208.1 L1529.2 1208.2 L1531.2 1208.5 L1533.2 1208.4 L1535.2 1208.6 L1537.2 1209.0 L1539.2 1209.1 L1541.2 1209.3 L1543.2 1209.0 L1545.2 1209.5 L1547.2 1209.5 L1549.2 1209.5 L1551.2 1209.5 L1553.2 1209.7 L1555.2 1209.5 L1557.2 1209.6 L1559.2 1209.8 L1561.2 1209.8 L1563.2 1209.9 L1565.2 1210.5 L1567.2 1210.6 L1569.2 1210.7 L1571.2 1210.6 L1573.2 1211.1 L1575.2 1211.3 L1577.2 1211.3 L1579.2 1211.2 L1581.2 1211.6 L1583.2 1211.6 L1585.2 1211.7 L1587.2 1211.8 L1589.2 1212.4 L1591.2 1212.4 L1593.2 1212.8 L1595.2 1212.5 L1597.2 1212.7 L1599.2 1213.0 L1601.2 1212.8 L1603.2 1213.1 L1605.2 1213.4 L1607.2 1213.5 L1609.2 1213.9 L1611.2 1213.8 L1613.2 1214.0 L1615.2 1214.1 L1617.2 1214.3 L1619.2 1214.1 L1621.2 1214.0 L1623.2 1214.7 L1625.2 1214.7 L1627.2 1214.4 L1629.2 1214.5 L1631.2 1214.7 L1633.2 1215.1 L1635.2 1214.9 L1637.2 1214.9 L1639.2 1215.3 L1641.2 1215.2 L1643.2 1215.5 L1645.2 1215.7 L1647.2 1215.7 L1649.2 1215.8 L1651.2 1216.1 L1653.2 1216.2 L1655.2 1216.4 L1657.2 1216.6 L1659.2 1216.7 L1661.2 1216.8 L1663.2 1216.7 L1665.2 1217.3 L1667.2 1217.3 L1669.2 1217.3 L1671.2 1217.0 L1673.2 1217.2 L1675.2 1217.6 L1677.2 1217.4 L1679.2 1217.3 L1681.2 1217.7 L1683.2 1217.7 L1685.2 1217.3 L1687.2 1217.5 L1689.2 1217.5 L1691.2 1217.3 L1693.2 1217.4 L1695.2 1217.6 L1697.2 1217.6 L1699.2 1217.6 L1701.2 1217.6 L1703.2 1217.4 L1705.2 1217.2 L1707.2 1217.2 L1709.2 1217.7 L1711.2 1217.7 L1713.2 1217.7 L1715.2 1217.2 L1717.2 1217.6 L1719.2 1217.2 L1721.2 1217.3 L1723.2 1217.2 L1725.2 1217.6 L1727.2 1217.5 L1729.2 1217.4 L1731.2 1217.1 L1733.2 1217.3 L1735.2 1216.8 L1737.2 1216.9 L1739.2 1216.9 L1741.2 1216.5 L1743.2 1216.4 L1745.2 1216.2 L1747.2 1216.5 L1749.2 1216.0 L1751.2 1215.8 L1753.2 1215.8 L1755.2 1215.9 L1757.2 1215.9 L1759.2 1215.7 L1761.2 1215.8 L1763.2 1215.7 L1765.2 1215.3 L1767.2 1215.5 L1769.2 1215.2 L1771.2 1215.2 L1773.2 1215.2 L1775.2 1215.1 L1777.2 1215.3 L1779.2 1215.6 L1781.2 1215.4 L1783.2 1215.1 L1785.2 1215.2 L1787.2 1215.4 L1789.2 1215.3 L1791.2 1215.0 L1793.2 1215.1 L1795.2 1215.4 L1797.2 1215.4 L1799.2 1215.1 L1801.2 1215.5 L1803.2 1215.2 L1805.2 1215.4 L1807.2 1215.4 L1809.2 1215.3 L1811.2 1215.7 L1813.2 1215.4 L1815.2 1215.4 L1817.2 1215.5 L1819.2 1215.7 L1821.2 1215.8 L1823.2 1215.7 L1825.2 1215.6 L1827.2 1215.7 L1829.2 1215.7 L1831.2 1215.9 L1833.2 1215.9 L1835.2 1215.8 L1835.9 1215.5" stroke="#6699CC"/>
<path d="M371.2 1204.4 L373.2 1202.8 L375.2 1200.9 L377.2 1199.7 L379.2 1198.1 L381.2 1197.4 L383.2 1196.5 L385.2 1196.0 L387.2 1195.9 L389.2 1195.9 L391.2 1196.4 L393.2 1197.0 L395.2 1197.8 L397.2 1198.7 L399.2 1200.3 L401.2 1201.5 L403.2 1203.0 L405.2 1204.1 L407.2 1205.4 L409.2 1206.7 L411.2 1208.6 L413.2 1210.3 L415.2 1211.9 L417.2 1213.5 L419.2 1215.5 L421.2 1217.1 L423.2 1218.8 L425.2 1220.6 L427.2 1222.1 L429.2 1223.9 L431.2 1225.7 L433.2 1227.4 L435.2 1229.0 L437.2 1230.5 L439.2 1232.3 L441.2 1233.9 L443.2 1234.8 L445.2 1236.1 L447.2 1237.3 L449.2 1238.7 L451.2 1239.8 L453.2 1241.2 L455.2 1241.9 L457.2 1243.2 L459.2 1244.4 L461.2 1245.7 L463.2 1246.9 L465.2 1248.1 L467.2 1249.6 L469.2 1250.5 L471.2 1251.6 L473.2 1252.9 L475.2 1253.6 L477.2 1254.5 L479.2 1255.6 L481.2 1256.3 L483.2 1257.3 L485.2 1258.9 L487.2 1259.7 L489.2 1260.8 L491.2 1261.5 L493.2 1262.8 L495.2 1263.6 L497.2 1264.7 L499.2 1265.3 L501.2 1266.6 L503.2 1267.0 L505.2 1267.8 L507.2 1268.9 L509.2 1269.2 L511.2 1270.0 L513.2 1270.8 L515.2 1271.8 L517.2 1271.9 L519.2 1272.6 L521.2 1273.6 L523.2 1273.8 L525.2 1274.7 L527.2 1275.6 L529.2 1276.2 L531.2 1276.9 L533.2 1277.3 L535.2 1278.5 L537.2 1278.9 L539.2 1280.0 L541.2 1280.6 L543.2 1281.6 L545.2 1282.2 L547.2 1282.9 L549.2 1283.7 L551.2 1284.7 L553.2 1285.2 L555.2 1286.1 L557.2 1287.4 L559.2 1288.0 L561.2 1288.9 L563.2 1289.2 L565.2 1290.1 L567.2 1290.8 L569.2 1291.2 L571.2 1291.9 L573.2 1292.9 L575.2 1293.3 L577.2 1293.8 L579.2 1294.4 L581.2 1295.0 L583.2 1295.6 L585.2 1295.9 L587.2 1296.0 L589.2 1297.0 L591.2 1297.0 L593.2 1297.5 L595.2 1297.8 L597.2 1298.5 L599.2 1298.9 L601.2 1299.3 L603.2 1299.7 L605.2 1299.9 L607.2 1300.6 L609.2 1300.9 L611.2 1301.2 L613.2 1301.9 L615.2 1302.4 L617.2 1302.7 L619.2 1303.2 L621.2 1303.0 L623.2 1303.6 L625.2 1304.0 L627.2 1304.2 L629.2 1304.9 L631.2 1305.3 L633.2 1305.2 L635.2 1305.7 L637.2 1306.3 L639.2 1306.6 L641.2 1306.6 L643.2 1306.7 L645.2 1307.2 L647.2 1307.5 L649.2 1308.0 L651.2 1307.9 L653.2 1308.2 L655.2 1308.9 L657.2 1308.7 L659.2 1309.3 L661.2 1309.4 L663.2 1310.1 L665.2 1310.3 L667.2 1310.9 L669.2 1310.9 L671.2 1311.6 L673.2 1311.6 L675.2 1311.9 L677.2 1312.3 L679.2 1312.7 L681.2 1313.2 L683.2 1313.9 L685.2 1313.9 L687.2 1314.4 L689.2 1314.3 L691.2 1314.9 L693.2 1315.1 L695.2 1315.2 L697.2 1315.7 L699.2 1315.9 L701.2 1316.1 L703.2 1316.6 L705.2 1316.8 L707.2 1316.7 L709.2 1317.0 L711.2 1317.2 L713.2 1317.6 L715.2 1318.1 L717.2 1318.6 L719.2 1318.9 L721.2 1319.1 L723.2 1319.0 L725.2 1319.7 L727.2 1320.0 L729.2 1320.1 L731.2 1320.7 L733.2 1320.8 L735.2 1320.8 L737.2 1321.1 L739.2 1321.4 L741.2 1322.0 L743.2 1322.3 L745.2 1322.8 L747.2 1322.5 L749.2 1322.8 L751.2 1323.7 L753.2 1323.6 L755.2 1323.9 L757.2 1324.5 L759.2 1324.4 L761.2 1325.0 L763.2 1325.4 L765.2 1325.5 L767.2 1325.8 L769.2 1325.7 L771.2 1326.3 L773.2 1326.5 L775.2 1326.9 L777.2 1327.0 L779.2 1327.0 L781.2 1327.3 L783.2 1327.8 L785.2 1327.8 L787.2 1328.1 L789.2 1328.4 L791.2 1329.0 L793.2 1329.2 L795.2 1329.3 L797.2 1330.0 L799.2 1330.1 L801.2 1330.2 L803.2 1330.6 L805.2 1331.1 L807.2 1331.1 L809.2 1331.4 L811.2 1331.8 L813.2 1332.3 L815.2 1332.3 L817.2 1332.3 L819.2 1332.7 L821.2 1332.8 L823.2 1333.1 L825.2 1333.4 L827.2 1333.2 L829.2 1333.6 L831.2 1333.7 L833.2 1334.0 L835.2 1334.3 L837.2 1334.2 L839.2 1334.4 L841.2 1334.4 L843.2 1334.5 L845.2 1334.7 L847.2 1334.9 L849.2 1334.8 L851.2 1335.2 L853.2 1335.2 L855.2 1335.2 L857.2 1335.2 L859.2 1335.7 L861.2 1335.8 L863.2 1336.0 L865.2 1335.7 L867.2 1335.7 L869.2 1336.1 L871.2 1335.9 L873.2 1336.5 L875.2 1336.6 L877.2 1336.5 L879.2 1336.8 L881.2 1337.1 L883.2 1337.0 L885.2 1337.3 L887.2 1337.7 L889.2 1337.9 L891.2 1338.0 L893.2 1338.0 L895.2 1338.3 L897.2 1338.5 L899.2 1338.6 L901.2 1339.2 L903.2 1339.4 L905.2 1339.9 L907.2 1339.9 L909.2 1340.4 L911.2 1340.3 L913.2 1340.6 L915.2 1340.7 L917.2 1341.1 L919.2 1341.6 L921.2 1341.5 L923.2 1341.5 L925.2 1341.9 L927.2 1342.0 L929.2 1342.4 L931.2 1342.5 L933.2 1342.7 L935.2 1343.1 L937.2 1343.2 L939.2 1342.9 L941.2 1343.1 L943.2 1343.6 L945.2 1343.7 L947.2 1343.9 L949.2 1344.0 L951.2 1343.9 L953.2 1344.4 L955.2 1344.8 L957.2 1344.9 L959.2 1344.8 L961.2 1345.0 L963.2 1345.7 L965.2 1345.7 L967.2 1345.7 L969.2 1346.3 L971.2 1346.7 L973.2 1346.9 L975.2 1346.9 L977.2 1347.2 L979.2 1347.0 L981.2 1347.4 L983.2 1347.8 L985.2 1347.7 L987.2 1347.8 L989.2 1348.4 L991.2 1348.4 L993.2 1348.2 L995.2 1348.3 L997.2 1348.8 L999.2 1349.2 L1001.2 1349.1 L1003.2 1349.5 L1005.2 1349.2 L1007.2 1349.6 L1009.2 1349.6 L1011.2 1349.8 L1013.2 1349.9 L1015.2 1350.3 L1017.2 1350.3 L1019.2 1350.9 L1021.2 1351.1 L1023.2 1351.5 L1025.2 1351.7 L1027.2 1351.5 L1029.2 1352.2 L1031.2 1352.3 L1033.2 1352.8 L1035.2 1352.8 L1037.2 1352.8 L1039.2 1353.4 L1041.2 1353.3 L1043.2 1354.0 L1045.2 1353.9 L1047.2 1354.3 L1049.2 1354.3 L1051.2 1354.4 L1053.2 1354.8 L1055.2 1355.0 L1057.2 1355.0 L1059.2 1355.0 L1061.2 1355.3 L1063.2 1355.6 L1065.2 1355.5 L1067.2 1355.6 L1069.2 1355.9 L1071.2 1356.1 L1073.2 1355.9 L1075.2 1356.2 L1077.2 1356.7 L1079.2 1356.4 L1081.2 1356.8 L1083.2 1356.7 L1085.2 1356.6 L1087.2 1357.0 L1089.2 1357.3 L1091.2 1357.4 L1093.2 1357.0 L1095.2 1357.5 L1097.2 1357.6 L1099.2 1357.6 L1101.2 1357.8 L1103.2 1357.8 L1105.2 1357.7 L1107.2 1358.1 L1109.2 1357.9 L1111.2 1358.1 L1113.2 1358.5 L1115.2 1358.4 L1117.2 1358.5 L1119.2 1358.7 L1121.2 1358.7 L1123.2 1358.7 L1125.2 1358.9 L1127.2 1358.7 L1129.2 1359.0 L1131.2 1358.9 L1133.2 1359.6 L1135.2 1359.6 L1137.2 1359.6 L1139.2 1359.4 L1141.2 1359.9 L1143.2 1359.7 L1145.2 1360.1 L1147.2 1360.1 L1149.2 1360.1 L1151.2 1360.3 L1153.2 1360.1 L1155.2 1360.6 L1157.2 1360.5 L1159.2 1360.7 L1161.2 1360.9 L1163.2 1360.6 L1165.2 1360.8 L1167.2 1360.9 L1169.2 1360.8 L1171.2 1361.4 L1173.2 1361.4 L1175.2 1361.4 L1177.2 1361.5 L1179.2 1361.8 L1181.2 1361.4 L1183.2 1361.7 L1185.2 1362.0 L1187.2 1362.0 L1189.2 1362.1 L1191.2 1362.1 L1193.2 1362.1 L1195.2 1362.5 L1197.2 1362.4 L1199.2 1362.9 L1201.2 1362.9 L1203.2 1363.1 L1205.2 1362.8 L1207.2 1363.0 L1209.2 1362.8 L1211.2 1363.1 L1213.2 1363.0 L1215.2 1363.3 L1217.2 1363.7 L1219.2 1363.7 L1221.2 1363.5 L1223.2 1363.5 L1225.2 1364.0 L1227.2 1363.5 L1229.2 1364.1 L1231.2 1364.1 L1233.2 1363.7 L1235.2 1364.3 L1237.2 1364.2 L1239.2 1364.1 L1241.2 1364.2 L1243.2 1364.3 L1245.2 1364.3 L1247.2 1364.6 L1249.2 1364.7 L1251.2 1364.4 L1253.2 1364.2 L1255.2 1364.8 L1257.2 1364.7 L1259.2 1364.8 L1261.2 1364.5 L1263.2 1364.6 L1265.2 1365.2 L1267.2 1364.9 L1269.2 1365.1 L1271.2 1365.4 L1273.2 1365.1 L1275.2 1365.4 L1277.2 1365.2 L1279.2 1365.6 L1281.2 1365.8 L1283.2 1365.5 L1285.2 1366.0 L1287.2 1366.2 L1289.2 1366.3 L1291.2 1366.3 L1293.2 1366.5 L1295.2 1366.5 L1297.2 1366.5 L1299.2 1366.8 L1301.2 1366.9 L1303.2 1366.9 L1305.2 1367.0 L1307.2 1366.8 L1309.2 1367.0 L1311.2 1367.1 L1313.2 1367.5 L1315.2 1367.5 L1317.2 1367.3 L1319.2 1367.8 L1321.2 1367.4 L1323.2 1367.4 L1325.2 1367.7 L1327.2 1367.6 L1329.2 1368.2 L1331.2 1367.9 L1333.2 1368.0 L1335.2 1368.3 L1337.2 1368.2 L1339.2 1368.3 L1341.2 1368.2 L1343.2 1368.2 L1345.2 1368.6 L1347.2 1368.2 L1349.2 1368.3 L1351.2 1368.3 L1353.2 1368.1 L1355.2 1368.2 L1357.2 1368.4 L1359.2 1368.6 L1361.2 1368.3 L1363.2 1368.1 L1365.2 1368.7 L1367.2 1368.2 L1369.2 1368.7 L1371.2 1368.2 L1373.2 1368.6 L1375.2 1368.3 L1377.2 1368.4 L1379.2 1368.6 L1381.2 1368.8 L1383.2 1368.7 L1385.2 1368.8 L1387.2 1368.9 L1389.2 1369.1 L1391.2 1369.1 L1393.2 1369.6 L1395.2 1369.3 L1397.2 1369.4 L1399.2 1369.8 L1401.2 1369.9 L1403.2 1370.3 L1405.2 1370.0 L1407.2 1370.5 L1409.2 1370.5 L1411.2 1371.0 L1413.2 1370.7 L1415.2 1370.9 L1417.2 1371.0 L1419.2 1371.2 L1421.2 1371.1 L1423.2 1371.5 L1425.2 1371.4 L1427.2 1371.7 L1429.2 1371.5 L1431.2 1371.7 L1433.2 1371.8 L1435.2 1372.0 L1437.2 1372.0 L1439.2 1372.0 L1441.2 1371.8 L1443.2 1371.9 L1445.2 1372.0 L1447.2 1372.1 L1449.2 1372.1 L1451.2 1372.5 L1453.2 1372.3 L1455.2 1372.7 L1457.2 1372.4 L1459.2 1372.4 L1461.2 1372.5 L1463.2 1372.5 L1465.2 1372.9 L1467.2 1372.9 L1469.2 1372.8 L1471.2 1373.2 L1473.2 1373.2 L1475.2 1373.2 L1477.2 1373.4 L1479.2 1373.5 L1481.2 1373.5 L1483.2 1373.4 L1485.2 1373.6 L1487.2 1374.1 L1489.2 1373.8 L1491.2 1374.1 L1493.2 1373.8 L1495.2 1374.3 L1497.2 1374.4 L1499.2 1374.2 L1501.2 1374.3 L1503.2 1374.4 L1505.2 1374.3 L1507.2 1374.4 L1509.2 1374.4 L1511.2 1374.7 L1513.2 1374.7 L1515.2 1375.0 L1517.2 1375.0 L1519.2 1375.0 L1521.2 1375.1 L1523.2 1375.0 L1525.2 1374.5 L1527.2 1374.6 L1529.2 1375.1 L1531.2 1375.0 L1533.2 1374.9 L1535.2 1374.9 L1537.2 1374.7 L1539.2 1374.7 L1541.2 1374.5 L1543.2 1374.8 L1545.2 1374.6 L1547.2 1374.5 L1549.2 1375.0 L1551.2 1374.8 L1553.2 1375.1 L1555.2 1374.8 L1557.2 1375.1 L1559.2 1375.0 L1561.2 1375.5 L1563.2 1375.3 L1565.2 1375.7 L1567.2 1375.8 L1569.2 1375.8 L1571.2 1375.8 L1573.2 1376.2 L1575.2 1376.3 L1577.2 1376.6 L1579.2 1376.3 L1581.2 1376.3 L1583.2 1376.4 L1585.2 1376.8 L1587.2 1376.4 L1589.2 1376.7 L1591.2 1376.3 L1593.2 1376.4 L1595.2 1376.7 L1597.2 1376.6 L1599.2 1376.4 L1601.2 1376.6 L1603.2 1376.9 L1605.2 1376.6 L1607.2 1376.7 L1609.2 1376.6 L1611.2 1376.6 L1613.2 1376.3 L1615.2 1376.8 L1617.2 1376.7 L1619.2 1376.5 L1621.2 1376.5 L1623.2 1376.4 L1625.2 1376.9 L1627.2 1376.8 L1629.2 1376.5 L1631.2 1376.7 L1633.2 1376.6 L1635.2 1376.4 L1637.2 1376.3 L1639.2 1376.8 L1641.2 1376.4 L1643.2 1376.7 L1645.2 1376.3 L1647.2 1376.3 L1649.2 1376.4 L1651.2 1376.7 L1653.2 1376.7 L1655.2 1376.9 L1657.2 1376.7 L1659.2 1376.6 L1661.2 1376.3 L1663.2 1376.9 L1665.2 1376.6 L1667.2 1376.8 L1669.2 1376.3 L1671.2 1376.8 L1673.2 1376.6 L1675.2 1376.4 L1677.2 1376.6 L1679.2 1376.4 L1681.2 1376.7 L1683.2 1376.4 L1685.2 1376.7 L1687.2 1376.4 L1689.2 1376.7 L1691.2 1376.7 L1693.2 1376.7 L1695.2 1376.9 L1697.2 1376.5 L1699.2 1376.7 L1701.2 1376.6 L1703.2 1376.9 L1705.2 1376.8 L1707.2 1376.8 L1709.2 1376.7 L1711.2 1376.5 L1713.2 1376.9 L1715.2 1376.9 L1717.2 1376.9 L1719.2 1376.5 L1721.2 1376.8 L1723.2 1376.7 L1725.2 1376.8 L1727.2 1376.8 L1729.2 1376.6 L1731.2 1376.6 L1733.2 1376.8 L1735.2 1376.7 L1737.2 1376.6 L1739.2 1376.8 L1741.2 1376.3 L1743.2 1376.2 L1745.2 1376.5 L1747.2 1376.2 L1749.2 1376.5 L1751.2 1376.0 L1753.2 1376.4 L1755.2 1375.8 L1757.2 1375.6 L1759.2 1375.8 L1761.2 1375.6 L1763.2 1375.3 L1765.2 1375.2 L1767.2 1375.1 L1769.2 1375.2 L1771.2 1374.8 L1773.2 1374.7 L1775.2 1374.6 L1777.2 1374.5 L1779.2 1374.6 L1781.2 1374.3 L1783.2 1374.6 L1785.2 1374.7 L1787.2 1374.6 L1789.2 1374.5 L1791.2 1374.4 L1793.2 1374.2 L1795.2 1374.2 L1797.2 1374.5 L1799.2 1374.7 L1801.2 1374.6 L1803.2 1374.2 L1805.2 1374.6 L1807.2 1374.6 L1809.2 1374.4 L1811.2 1374.6 L1813.2 1374.2 L1815.2 1374.2 L1817.2 1374.3 L1819.2 1374.4 L1821.2 1374.2 L1823.2 1374.1 L1825.2 1374.4 L1827.2 1374.1 L1829.2 1374.1 L1831.2 1374.0 L1833.2 1374.1 L1835.2 1374.2 L1835.9 1374.0" stroke="#6EB700"/>
</g>
<g fill="#000" shape-rendering="crispEdges">
<rect x="305" y="26" width="5" height="1427"/>
<rect x="283" y="1448" width="1636" height="5"/>
<rect x="283" y="1447.7" width="22" height="5"/>
<rect x="294.5" y="1378.0" width="10.5" height="5"/>
<rect x="283" y="1308.3" width="22" height="5"/>
<rect x="294.5" y="1238.6" width="10.5" height="5"/>
<rect x="283" y="1168.9" width="22" height="5"/>
<rect x="294.5" y="1099.2" width="10.5" height="5"/>
<rect x="283" y="1029.5" width="22" height="5"/>
<rect x="294.5" y="959.8" width="10.5" height="5"/>
<rect x="283" y="890.1" width="22" height="5"/>
<rect x="294.5" y="820.4" width="10.5" height="5"/>
<rect x="283" y="750.6" width="22" height="5"/>
<rect x="294.5" y="680.9" width="10.5" height="5"/>
<rect x="283" y="611.2" width="22" height="5"/>
<rect x="294.5" y="541.5" width="10.5" height="5"/>
<rect x="283" y="471.8" width="22" height="5"/>
<rect x="294.5" y="402.1" width="10.5" height="5"/>
<rect x="283" y="332.4" width="22" height="5"/>
<rect x="294.5" y="262.7" width="10.5" height="5"/>
<rect x="283" y="193.0" width="22" height="5"/>
<rect x="294.5" y="123.3" width="10.5" height="5"/>
<rect x="283" y="53.6" width="22" height="5"/>
<rect x="385.2" y="1453" width="5" height="22"/>
<rect x="546.1" y="1453" width="5" height="10"/>
<rect x="707.0" y="1453" width="5" height="22"/>
<rect x="867.9" y="1453" width="5" height="10"/>
<rect x="1028.8" y="1453" width="5" height="22"/>
<rect x="1189.7" y="1453" width="5" height="10"/>
<rect x="1350.6" y="1453" width="5" height="22"/>
<rect x="1511.5" y="1453" width="5" height="10"/>
<rect x="1672.4" y="1453" width="5" height="22"/>
<rect x="1833.3" y="1453" width="5" height="10"/>
</g>
<g>
<line x1="1888.2" y1="314.5" x2="2040.4" y2="314.5" stroke="#515151" stroke-width="7" stroke-linecap="round"/>
<text x="2058.2" y="0" font-size="65" transform="translate(0 338.8) scale(1 1.057)">0.2 nm</text>
<line x1="1888.2" y1="398.8" x2="2040.4" y2="398.8" stroke="#EF4040" stroke-width="7" stroke-linecap="round"/>
<text x="2058.2" y="0" font-size="65" transform="translate(0 423.1) scale(1 1.057)">0.5 nm</text>
<line x1="1888.2" y1="483.2" x2="2040.4" y2="483.2" stroke="#1A6FDF" stroke-width="7" stroke-linecap="round"/>
<text x="2058.2" y="0" font-size="65" transform="translate(0 507.5) scale(1 1.057)">1.0 nm</text>
<line x1="1888.2" y1="567.5" x2="2040.4" y2="567.5" stroke="#38AD6B" stroke-width="7" stroke-linecap="round"/>
<text x="2058.2" y="0" font-size="65" transform="translate(0 591.8) scale(1 1.057)">1.4 nm</text>
<line x1="1888.2" y1="651.8" x2="2040.4" y2="651.8" stroke="#AF78DF" stroke-width="7" stroke-linecap="round"/>
<text x="2058.2" y="0" font-size="65" transform="translate(0 676.1) scale(1 1.057)">1.6 nm</text>
<line x1="1888.2" y1="736.1" x2="2040.4" y2="736.1" stroke="#00CBCB" stroke-width="7" stroke-linecap="round"/>
<text x="2058.2" y="0" font-size="65" transform="translate(0 760.4) scale(1 1.057)">2.0 nm</text>
<line x1="1888.2" y1="820.5" x2="2040.4" y2="820.5" stroke="#7B4F4F" stroke-width="7" stroke-linecap="round"/>
<text x="2058.2" y="0" font-size="65" transform="translate(0 844.8) scale(1 1.057)">3.0 nm</text>
<line x1="1888.2" y1="904.8" x2="2040.4" y2="904.8" stroke="#8E8E00" stroke-width="7" stroke-linecap="round"/>
<text x="2058.2" y="0" font-size="65" transform="translate(0 929.1) scale(1 1.057)">4.0 nm</text>
<line x1="1888.2" y1="989.1" x2="2040.4" y2="989.1" stroke="#F96600" stroke-width="7" stroke-linecap="round"/>
<text x="2058.2" y="0" font-size="65" transform="translate(0 1013.4) scale(1 1.057)">5.0 nm</text>
<line x1="1888.2" y1="1073.5" x2="2040.4" y2="1073.5" stroke="#6699CC" stroke-width="7" stroke-linecap="round"/>
<text x="2058.2" y="0" font-size="65" transform="translate(0 1097.8) scale(1 1.057)">10.0 nm</text>
<line x1="1888.2" y1="1157.8" x2="2040.4" y2="1157.8" stroke="#6EB700" stroke-width="7" stroke-linecap="round"/>
<text x="2058.2" y="0" font-size="65" transform="translate(0 1182.1) scale(1 1.057)">20.0 nm</text>
</g>
<g>
<text x="266.4" y="0" text-anchor="end" font-size="82" transform="translate(0 1476.5) scale(1 1.05)">0</text>
<text x="266.4" y="0" text-anchor="end" font-size="82" transform="translate(0 1337.1) scale(1 1.05)">10</text>
<text x="266.4" y="0" text-anchor="end" font-size="82" transform="translate(0 1197.7) scale(1 1.05)">20</text>
<text x="266.4" y="0" text-anchor="end" font-size="82" transform="translate(0 1058.3) scale(1 1.05)">30</text>
<text x="266.4" y="0" text-anchor="end" font-size="82" transform="translate(0 918.9) scale(1 1.05)">40</text>
<text x="266.4" y="0" text-anchor="end" font-size="82" transform="translate(0 779.4) scale(1 1.05)">50</text>
<text x="266.4" y="0" text-anchor="end" font-size="82" transform="translate(0 640.0) scale(1 1.05)">60</text>
<text x="266.4" y="0" text-anchor="end" font-size="82" transform="translate(0 500.6) scale(1 1.05)">70</text>
<text x="266.4" y="0" text-anchor="end" font-size="82" transform="translate(0 361.2) scale(1 1.05)">80</text>
<text x="266.4" y="0" text-anchor="end" font-size="82" transform="translate(0 221.8) scale(1 1.05)">90</text>
<text x="266.4" y="0" text-anchor="end" font-size="82" transform="translate(0 82.4) scale(1 1.05)">100</text>
<text x="387.7" y="0" text-anchor="middle" font-size="82" transform="translate(0 1559.3) scale(1 1.05)">200</text>
<text x="709.5" y="0" text-anchor="middle" font-size="82" transform="translate(0 1559.3) scale(1 1.05)">400</text>
<text x="1031.3" y="0" text-anchor="middle" font-size="82" transform="translate(0 1559.3) scale(1 1.05)">600</text>
<text x="1353.1" y="0" text-anchor="middle" font-size="82" transform="translate(0 1559.3) scale(1 1.05)">800</text>
<text x="1674.9" y="0" text-anchor="middle" font-size="82" transform="translate(0 1559.3) scale(1 1.05)">1000</text>
<text x="747.6" y="0" font-size="101.8" transform="translate(0 1707.2) scale(1 0.985)">Wavelength, nm</text>
<text x="0" y="0" font-size="103.1" transform="translate(94.2 841.3) rotate(-90) scale(1 1.0204)">T</text>
<text x="0" y="0" font-size="97.8" transform="translate(94.2 778.8) rotate(-90) scale(1 1.0491)">,</text>
<text x="0" y="0" font-size="93.8" transform="translate(94.2 719.1) rotate(-90) scale(1 1.1290)">%</text>
</g>
</svg>
</body></html>
